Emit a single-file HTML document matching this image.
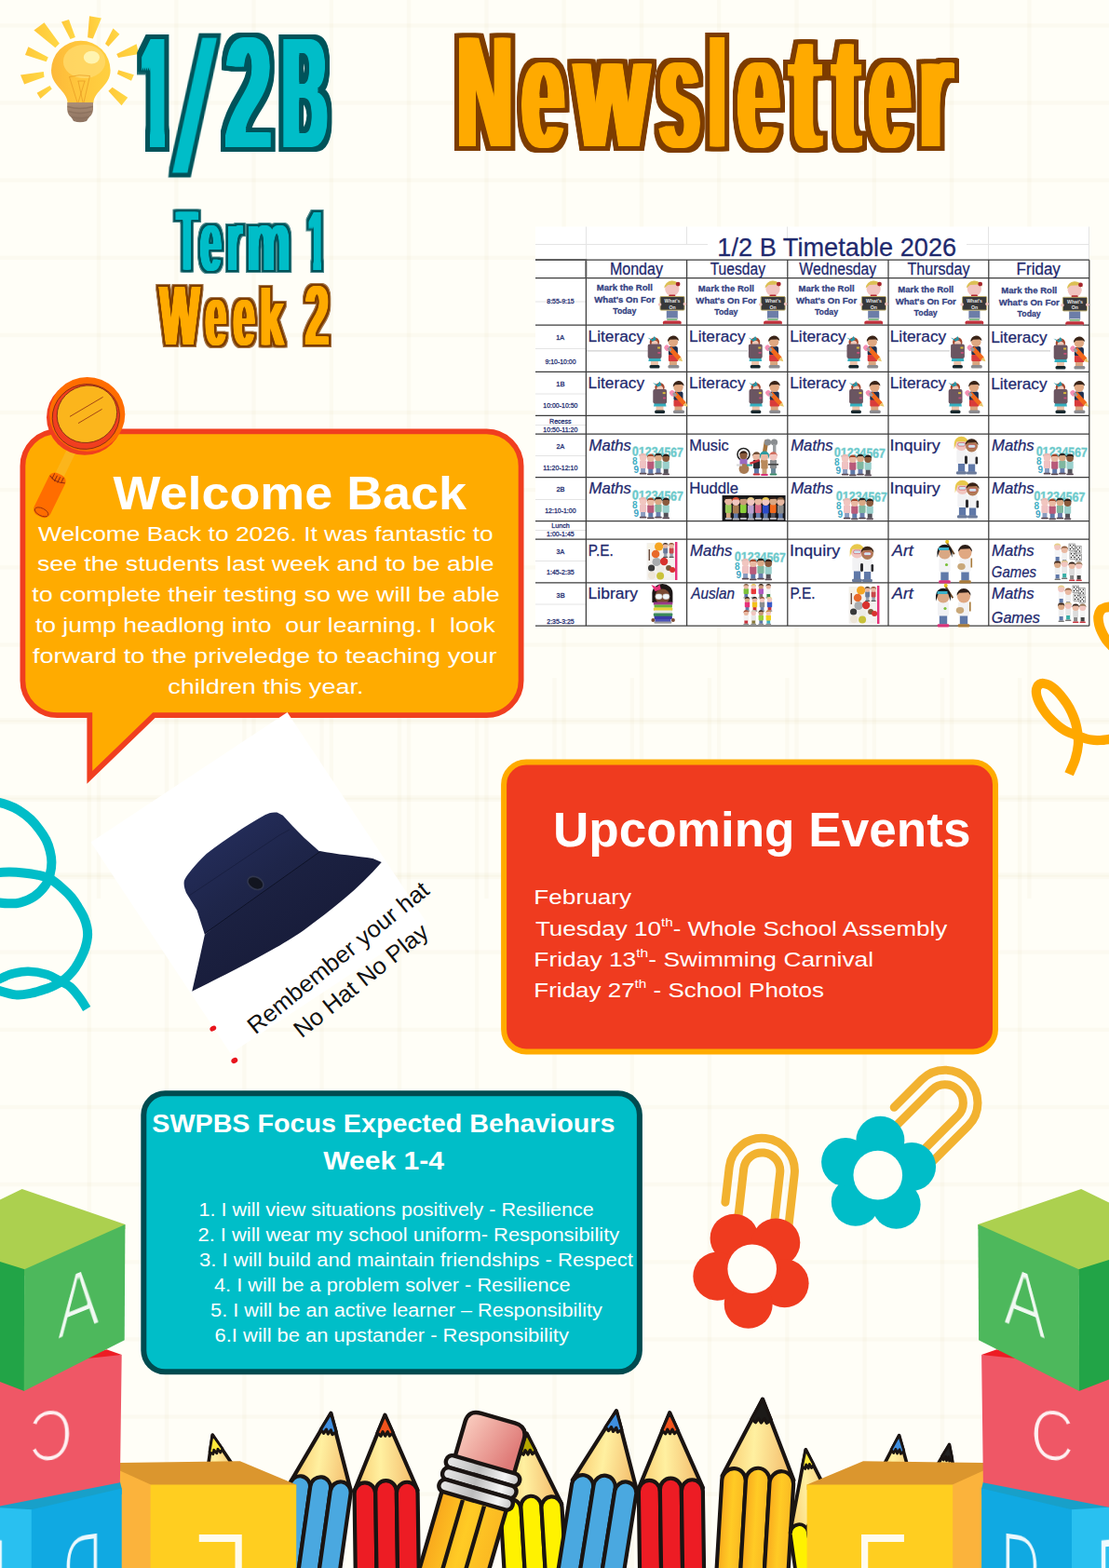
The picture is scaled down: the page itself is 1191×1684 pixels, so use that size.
<!DOCTYPE html>
<html lang="en"><head><meta charset="utf-8"><title>1/2B Newsletter - Term 1 Week 2</title>
<style>
html,body{margin:0;padding:0;background:#fffef7;}
body{width:1191px;height:1684px;overflow:hidden;position:relative;font-family:"Liberation Sans",sans-serif;}
svg{display:block;position:absolute;left:0;top:0;}
text{white-space:pre;}
</style></head><body>
<svg width="1191" height="1684" viewBox="0 0 1191 1684" font-family="'Liberation Sans', sans-serif"><defs><filter id="fT" x="-40%" y="-20%" width="180%" height="140%" color-interpolation-filters="sRGB"><feOffset in="SourceAlpha" dx="-4" dy="0" result="x0"/><feOffset in="SourceAlpha" dx="-2" dy="0" result="x1"/><feOffset in="SourceAlpha" dx="0" dy="0" result="x2"/><feOffset in="SourceAlpha" dx="2" dy="0" result="x3"/><feOffset in="SourceAlpha" dx="4" dy="0" result="x4"/><feMerge result="a"><feMergeNode in="x0"/><feMergeNode in="x1"/><feMergeNode in="x2"/><feMergeNode in="x3"/><feMergeNode in="x4"/></feMerge><feOffset in="a" dx="0" dy="-2" result="y0"/><feOffset in="a" dx="0" dy="2" result="y1"/><feComposite in="y0" in2="y1" operator="in" result="y2"/><feComposite in="a" in2="y2" operator="in" result="b"/><feMorphology in="b" operator="dilate" radius="5 5" result="c"/><feFlood flood-color="#00535a"/><feComposite in2="c" operator="in" result="d"/><feFlood flood-color="#00bdc8"/><feComposite in2="b" operator="in" result="e"/><feMerge><feMergeNode in="d"/><feMergeNode in="e"/></feMerge></filter><filter id="fT0" x="-40%" y="-20%" width="180%" height="140%" color-interpolation-filters="sRGB"><feOffset in="SourceAlpha" dx="0" dy="0" result="a"/><feOffset in="a" dx="0" dy="0" result="b"/><feMorphology in="b" operator="dilate" radius="5 5" result="c"/><feFlood flood-color="#00535a"/><feComposite in2="c" operator="in" result="d"/><feFlood flood-color="#00bdc8"/><feComposite in2="b" operator="in" result="e"/><feMerge><feMergeNode in="d"/><feMergeNode in="e"/></feMerge></filter><filter id="fO" x="-40%" y="-20%" width="180%" height="140%" color-interpolation-filters="sRGB"><feOffset in="SourceAlpha" dx="-4" dy="0" result="x0"/><feOffset in="SourceAlpha" dx="-2" dy="0" result="x1"/><feOffset in="SourceAlpha" dx="0" dy="0" result="x2"/><feOffset in="SourceAlpha" dx="2" dy="0" result="x3"/><feOffset in="SourceAlpha" dx="4" dy="0" result="x4"/><feMerge result="a"><feMergeNode in="x0"/><feMergeNode in="x1"/><feMergeNode in="x2"/><feMergeNode in="x3"/><feMergeNode in="x4"/></feMerge><feOffset in="a" dx="0" dy="-2" result="y0"/><feOffset in="a" dx="0" dy="2" result="y1"/><feComposite in="y0" in2="y1" operator="in" result="y2"/><feComposite in="a" in2="y2" operator="in" result="b"/><feMorphology in="b" operator="dilate" radius="5 5" result="c"/><feFlood flood-color="#7d3c00"/><feComposite in2="c" operator="in" result="d"/><feFlood flood-color="#ffaa00"/><feComposite in2="b" operator="in" result="e"/><feMerge><feMergeNode in="d"/><feMergeNode in="e"/></feMerge></filter><filter id="fT2" x="-40%" y="-20%" width="180%" height="140%" color-interpolation-filters="sRGB"><feOffset in="SourceAlpha" dx="-2" dy="0" result="x0"/><feOffset in="SourceAlpha" dx="-1" dy="0" result="x1"/><feOffset in="SourceAlpha" dx="0" dy="0" result="x2"/><feOffset in="SourceAlpha" dx="1" dy="0" result="x3"/><feOffset in="SourceAlpha" dx="2" dy="0" result="x4"/><feMerge result="a"><feMergeNode in="x0"/><feMergeNode in="x1"/><feMergeNode in="x2"/><feMergeNode in="x3"/><feMergeNode in="x4"/></feMerge><feOffset in="a" dx="0" dy="-1" result="y0"/><feOffset in="a" dx="0" dy="1" result="y1"/><feComposite in="y0" in2="y1" operator="in" result="y2"/><feComposite in="a" in2="y2" operator="in" result="b"/><feMorphology in="b" operator="dilate" radius="2 2" result="c"/><feMorphology in="b" operator="dilate" radius="3 3" result="c2"/><feFlood flood-color="#00535a" flood-opacity="0.7"/><feComposite in2="c2" operator="in" result="d2"/><feFlood flood-color="#00535a"/><feComposite in2="c" operator="in" result="d"/><feFlood flood-color="#00bdc8"/><feComposite in2="b" operator="in" result="e"/><feMerge><feMergeNode in="d2"/><feMergeNode in="d"/><feMergeNode in="e"/></feMerge></filter><filter id="fO2" x="-40%" y="-20%" width="180%" height="140%" color-interpolation-filters="sRGB"><feOffset in="SourceAlpha" dx="-2" dy="0" result="x0"/><feOffset in="SourceAlpha" dx="-1" dy="0" result="x1"/><feOffset in="SourceAlpha" dx="0" dy="0" result="x2"/><feOffset in="SourceAlpha" dx="1" dy="0" result="x3"/><feOffset in="SourceAlpha" dx="2" dy="0" result="x4"/><feMerge result="a"><feMergeNode in="x0"/><feMergeNode in="x1"/><feMergeNode in="x2"/><feMergeNode in="x3"/><feMergeNode in="x4"/></feMerge><feOffset in="a" dx="0" dy="-1" result="y0"/><feOffset in="a" dx="0" dy="1" result="y1"/><feComposite in="y0" in2="y1" operator="in" result="y2"/><feComposite in="a" in2="y2" operator="in" result="b"/><feMorphology in="b" operator="dilate" radius="2 2" result="c"/><feMorphology in="b" operator="dilate" radius="3 3" result="c2"/><feFlood flood-color="#7d3c00" flood-opacity="0.7"/><feComposite in2="c2" operator="in" result="d2"/><feFlood flood-color="#7d3c00"/><feComposite in2="c" operator="in" result="d"/><feFlood flood-color="#ffaa00"/><feComposite in2="b" operator="in" result="e"/><feMerge><feMergeNode in="d2"/><feMergeNode in="d"/><feMergeNode in="e"/></feMerge></filter></defs>
<g fill="rgba(190,160,110,0.048)"><rect x="103.8" y="0" width="4.4" height="965"/><rect x="187.1" y="0" width="4.4" height="965"/><rect x="270.4" y="0" width="4.4" height="965"/><rect x="353.6" y="0" width="4.4" height="965"/><rect x="436.9" y="0" width="4.4" height="965"/><rect x="520.2" y="0" width="4.4" height="965"/><rect x="603.5" y="0" width="4.4" height="965"/><rect x="686.8" y="0" width="4.4" height="965"/><rect x="770.0" y="0" width="4.4" height="965"/><rect x="853.3" y="0" width="4.4" height="965"/><rect x="936.6" y="0" width="4.4" height="965"/><rect x="1019.9" y="0" width="4.4" height="965"/><rect x="1103.2" y="0" width="4.4" height="965"/><rect x="0" y="25.1" width="1191" height="4.4"/><rect x="0" y="108.2" width="1191" height="4.4"/><rect x="0" y="191.4" width="1191" height="4.4"/><rect x="0" y="274.6" width="1191" height="4.4"/><rect x="0" y="357.7" width="1191" height="4.4"/><rect x="0" y="440.8" width="1191" height="4.4"/><rect x="0" y="524.0" width="1191" height="4.4"/><rect x="0" y="607.1" width="1191" height="4.4"/><rect x="0" y="690.3" width="1191" height="4.4"/><rect x="0" y="773.4" width="1191" height="4.4"/><rect x="0" y="856.6" width="1191" height="4.4"/><rect x="0" y="939.7" width="1191" height="4.4"/><rect x="93.6" y="728" width="4.4" height="956"/><rect x="176.9" y="728" width="4.4" height="956"/><rect x="260.2" y="728" width="4.4" height="956"/><rect x="343.4" y="728" width="4.4" height="956"/><rect x="426.7" y="728" width="4.4" height="956"/><rect x="510.0" y="728" width="4.4" height="956"/><rect x="593.3" y="728" width="4.4" height="956"/><rect x="676.6" y="728" width="4.4" height="956"/><rect x="759.8" y="728" width="4.4" height="956"/><rect x="843.1" y="728" width="4.4" height="956"/><rect x="926.4" y="728" width="4.4" height="956"/><rect x="1009.7" y="728" width="4.4" height="956"/><rect x="1093.0" y="728" width="4.4" height="956"/><rect x="0" y="771.0" width="1191" height="4.4"/><rect x="0" y="854.1" width="1191" height="4.4"/><rect x="0" y="937.3" width="1191" height="4.4"/><rect x="0" y="1020.4" width="1191" height="4.4"/><rect x="0" y="1103.6" width="1191" height="4.4"/><rect x="0" y="1186.8" width="1191" height="4.4"/><rect x="0" y="1269.9" width="1191" height="4.4"/><rect x="0" y="1353.1" width="1191" height="4.4"/><rect x="0" y="1436.2" width="1191" height="4.4"/><rect x="0" y="1519.4" width="1191" height="4.4"/><rect x="0" y="1602.5" width="1191" height="4.4"/></g>
<defs><linearGradient id="bulbg" x1="0" x2="1" y1="0" y2="0"><stop offset="0" stop-color="#fdb93a"/><stop offset="0.45" stop-color="#ffc63c"/><stop offset="1" stop-color="#ffd040"/></linearGradient><linearGradient id="rayg" x1="0" x2="1" y1="0" y2="0"><stop offset="0" stop-color="#ffc83a"/><stop offset="1" stop-color="#ffd845"/></linearGradient><linearGradient id="baseg" x1="0" x2="0" y1="0" y2="1"><stop offset="0" stop-color="#ab8e76"/><stop offset="1" stop-color="#8d7260"/></linearGradient></defs><polygon points="36.4,32.4 47.5,24.2 63.9,46.8 59.4,51.2" fill="url(#rayg)" /><polygon points="66.0,23.6 74.0,21.0 80.9,40.0 75.5,41.9" fill="url(#rayg)" /><polygon points="96.0,17.2 108.9,19.4 99.8,41.5 94.1,40.2" fill="url(#rayg)" /><polygon points="121.5,30.5 128.4,36.8 116.4,50.0 113.0,46.9" fill="url(#rayg)" /><polygon points="146.6,47.2 149.2,57.9 127.1,61.9 125.2,57.9" fill="url(#rayg)" /><polygon points="127.1,75.2 143.8,80.3 141.0,86.8 125.9,79.6" fill="url(#rayg)" /><polygon points="120.6,93.8 137.2,104.7 130.5,113.3 116.4,97.8" fill="url(#rayg)" /><polygon points="53.5,91.9 55.7,95.6 43.4,106.0 39.6,99.7" fill="url(#rayg)" /><polygon points="22.0,80.5 46.8,77.1 47.5,82.7 26.1,90.4" fill="url(#rayg)" /><polygon points="30.4,50.3 51.8,61.6 49.7,66.3 27.0,58.9" fill="url(#rayg)" /><path d="M55.0,75.6 A31.8,31.8 0 1 1 118.6,75.6 C118.6,92.6 100.8,97.6 100.39999999999999,110.6 H72.6 C72.3,97.6 55.0,92.6 55.0,75.6 Z" fill="url(#bulbg)"/><ellipse cx="90.5" cy="66" rx="22.6" ry="18" fill="#ffd868" opacity="0.85"/><ellipse cx="98.4" cy="61.6" rx="8.6" ry="6.8" fill="#fff4b0"/><path d="M74.5,82.5 L83,110 M96.5,81.5 L90,110 M74.5,82.5 Q85,79.5 96.5,81.5 M84,87 L89,110 M91,87 L84,110 M83.5,87 H91.5" stroke="#e69a22" stroke-width="0.7" fill="none"/><path d="M72.2,110 H100 V118 Q99,124 95.5,126 L93,130 Q86,132.6 79,130 L76.6,126 Q73,124 72.2,118 Z" fill="url(#baseg)"/><path d="M72.4,114.5 Q86,118.5 99.8,114.5 M73,119.6 Q86,123.6 99,119.6 M76.6,125.4 Q86,128.4 95.6,125.4" stroke="#8a6f5c" stroke-width="1.6" fill="none" opacity="0.8"/>
<g font-weight="bold"><clipPath id="c1a"><path d="M147.27,28.3 H173.10 V161.6 H164.90 V128.1 H147.27 Z"/></clipPath><g filter="url(#fT)"><text clip-path="url(#c1a)" x="152.27" y="159.6" font-size="175" textLength="30.81" lengthAdjust="spacingAndGlyphs">1</text></g><text transform="translate(184.2,181.1) skewX(-5) scale(0.70,1)" font-size="194.7" filter="url(#fT0)">/</text><text y="159.6" font-size="175" filter="url(#fT)"><tspan x="243.05" textLength="47.36" lengthAdjust="spacingAndGlyphs" >2</tspan><tspan x="303.65" textLength="47.01" lengthAdjust="spacingAndGlyphs" >B</tspan></text></g><g filter="url(#fO)"><text y="158.8" font-size="175" font-weight="bold"><tspan x="491.14" textLength="58.96" lengthAdjust="spacingAndGlyphs" >N</tspan><tspan x="560.85" textLength="44.92" lengthAdjust="spacingAndGlyphs" >e</tspan><tspan x="617.80" textLength="79.00" lengthAdjust="spacingAndGlyphs" >w</tspan><tspan x="707.97" textLength="43.22" lengthAdjust="spacingAndGlyphs" >s</tspan><tspan x="761.67" textLength="17.21" lengthAdjust="spacingAndGlyphs" font-size="166.5">l</tspan><tspan x="792.39" textLength="44.34" lengthAdjust="spacingAndGlyphs" >e</tspan><tspan x="848.81" textLength="32.37" lengthAdjust="spacingAndGlyphs" >t</tspan><tspan x="894.97" textLength="28.06" lengthAdjust="spacingAndGlyphs" >t</tspan><tspan x="933.49" textLength="44.22" lengthAdjust="spacingAndGlyphs" >e</tspan><tspan x="987.01" textLength="35.37" lengthAdjust="spacingAndGlyphs" >r</tspan></text></g><g font-weight="bold"><text y="290.5" font-size="93" filter="url(#fT2)" xml:space="preserve"><tspan x="189.79" textLength="22.09" lengthAdjust="spacingAndGlyphs" >T</tspan><tspan x="215.11" textLength="22.57" lengthAdjust="spacingAndGlyphs" >e</tspan><tspan x="244.08" textLength="16.04" lengthAdjust="spacingAndGlyphs" >r</tspan><tspan x="265.02" textLength="46.96" lengthAdjust="spacingAndGlyphs" >m</tspan> </text><clipPath id="c1b"><path d="M325.92,220.8 H343.10 V292.5 H338.10 V273.8 H325.92 Z"/></clipPath><g filter="url(#fT2)"><text clip-path="url(#c1b)" x="330.92" y="290.5" font-size="93" textLength="17.83" lengthAdjust="spacingAndGlyphs">1</text></g></g><g filter="url(#fO2)"><text y="371" font-size="92" font-weight="bold"><tspan x="171.86" textLength="42.29" lengthAdjust="spacingAndGlyphs" >W</tspan><tspan x="220.51" textLength="22.57" lengthAdjust="spacingAndGlyphs" >e</tspan><tspan x="250.38" textLength="23.03" lengthAdjust="spacingAndGlyphs" >e</tspan><tspan x="279.08" textLength="25.68" lengthAdjust="spacingAndGlyphs" font-size="87.5">k</tspan> <tspan x="327.72" textLength="25.30" lengthAdjust="spacingAndGlyphs" >2</tspan></text></g>
<g id="tt"><rect x="575" y="243.5" width="595" height="429.0" fill="#fff"/><g stroke="#e4e4e4" stroke-width="1" fill="none"><path d="M575,262.5 H760 M1038,262.5 H1170 M629.5,243.5 V279 M737.5,243.5 V262 M845.5,243.5 V256 M1061.5,243.5 V279 M1169.5,243.5 V279"/><path d="M575,324 H629 M575,374.5 H629 M575,423 H629 M575,456.5 H629 M575,489.5 H629 M575,536.5 H629 M575,569.5 H629 M575,602.5 H629 M575,649 H629"/></g><g stroke="#cfcfcf" stroke-width="1.2" fill="none"><path d="M629.4,376.8 H696 M737.6,376.8 H803 M845.8,376.8 H912 M954,376.8 H1020 M1061.8,376.8 H1128"/></g><path d="M575,279.2 H1169.8 M575,298.5 H1169.8 M575,349.2 H1169.8 M575,399.4 H1169.8 M575,446.4 H1169.8 M575,466.2 H1169.8 M575,512.6 H1169.8 M575,559.6 H1169.8 M575,579 H1169.8 M575,625.8 H1169.8 M575,672.2 H1169.8 M629.4,279.2 V672.2 M737.6,279.2 V672.2 M845.8,279.2 V672.2 M954,279.2 V672.2 M1061.8,279.2 V672.2 M1169.8,279.2 V672.2" stroke="#3c3c3c" stroke-width="1.25" fill="none"/><path d="M575,279.2 H629.4 V298.5" stroke="#555" stroke-width="1.8" fill="none"/><g><rect x="715.8" y="333.5" width="12" height="9" fill="#6c7da8"/><rect x="716.3" y="341.5" width="11" height="4" fill="#e8efe6"/><rect x="716.3" y="342.5" width="11" height="1.2" fill="#4c9a52"/><rect x="711.8" y="344.5" width="20" height="4.6" rx="2.3" fill="#c22f3a"/><rect x="712.8" y="347.7" width="18" height="1.6" fill="#8d8d8d"/><circle cx="721.8" cy="310.5" r="7.6" fill="#f2c4c0"/><path d="M713.4,309.5 a8.6,8.4 0 0 1 17,-1.5 l-3,-2.6 l-10,0.6 Z" fill="#dcc055"/><circle cx="728.0999999999999" cy="305.1" r="2.4" fill="#a5262d"/><rect x="718.3" y="316.5" width="7" height="2.6" rx="1" fill="#b3272e"/><rect x="709.0" y="318.5" width="26" height="14.6" rx="1" fill="#38383a" stroke="#b9a867" stroke-width="1"/><circle cx="708.5999999999999" cy="327.0" r="1.8" fill="#f2c4c0"/><circle cx="735.4" cy="326.5" r="1.8" fill="#f2c4c0"/><text x="722.0" y="324.8" font-size="5.2" font-weight="bold" fill="#e6e6e6" text-anchor="middle">What's</text><text x="722.0" y="331.5" font-size="5.2" font-weight="bold" fill="#e6e6e6" text-anchor="middle">On</text><rect x="824.0" y="333.5" width="12" height="9" fill="#6c7da8"/><rect x="824.5" y="341.5" width="11" height="4" fill="#e8efe6"/><rect x="824.5" y="342.5" width="11" height="1.2" fill="#4c9a52"/><rect x="820.0" y="344.5" width="20" height="4.6" rx="2.3" fill="#c22f3a"/><rect x="821.0" y="347.7" width="18" height="1.6" fill="#8d8d8d"/><circle cx="830.0" cy="310.5" r="7.6" fill="#f2c4c0"/><path d="M821.6,309.5 a8.6,8.4 0 0 1 17,-1.5 l-3,-2.6 l-10,0.6 Z" fill="#dcc055"/><circle cx="836.3" cy="305.1" r="2.4" fill="#a5262d"/><rect x="826.5" y="316.5" width="7" height="2.6" rx="1" fill="#b3272e"/><rect x="817.2" y="318.5" width="26" height="14.6" rx="1" fill="#38383a" stroke="#b9a867" stroke-width="1"/><circle cx="816.8" cy="327.0" r="1.8" fill="#f2c4c0"/><circle cx="843.6" cy="326.5" r="1.8" fill="#f2c4c0"/><text x="830.2" y="324.8" font-size="5.2" font-weight="bold" fill="#e6e6e6" text-anchor="middle">What's</text><text x="830.2" y="331.5" font-size="5.2" font-weight="bold" fill="#e6e6e6" text-anchor="middle">On</text><rect x="932.1999999999999" y="333.5" width="12" height="9" fill="#6c7da8"/><rect x="932.6999999999999" y="341.5" width="11" height="4" fill="#e8efe6"/><rect x="932.6999999999999" y="342.5" width="11" height="1.2" fill="#4c9a52"/><rect x="928.1999999999999" y="344.5" width="20" height="4.6" rx="2.3" fill="#c22f3a"/><rect x="929.1999999999999" y="347.7" width="18" height="1.6" fill="#8d8d8d"/><circle cx="938.1999999999999" cy="310.5" r="7.6" fill="#f2c4c0"/><path d="M929.8,309.5 a8.6,8.4 0 0 1 17,-1.5 l-3,-2.6 l-10,0.6 Z" fill="#dcc055"/><circle cx="944.4999999999999" cy="305.1" r="2.4" fill="#a5262d"/><rect x="934.6999999999999" y="316.5" width="7" height="2.6" rx="1" fill="#b3272e"/><rect x="925.4" y="318.5" width="26" height="14.6" rx="1" fill="#38383a" stroke="#b9a867" stroke-width="1"/><circle cx="924.9999999999999" cy="327.0" r="1.8" fill="#f2c4c0"/><circle cx="951.8" cy="326.5" r="1.8" fill="#f2c4c0"/><text x="938.4" y="324.8" font-size="5.2" font-weight="bold" fill="#e6e6e6" text-anchor="middle">What's</text><text x="938.4" y="331.5" font-size="5.2" font-weight="bold" fill="#e6e6e6" text-anchor="middle">On</text><rect x="1040.4" y="333.5" width="12" height="9" fill="#6c7da8"/><rect x="1040.9" y="341.5" width="11" height="4" fill="#e8efe6"/><rect x="1040.9" y="342.5" width="11" height="1.2" fill="#4c9a52"/><rect x="1036.4" y="344.5" width="20" height="4.6" rx="2.3" fill="#c22f3a"/><rect x="1037.4" y="347.7" width="18" height="1.6" fill="#8d8d8d"/><circle cx="1046.4" cy="310.5" r="7.6" fill="#f2c4c0"/><path d="M1038.0,309.5 a8.6,8.4 0 0 1 17,-1.5 l-3,-2.6 l-10,0.6 Z" fill="#dcc055"/><circle cx="1052.7" cy="305.1" r="2.4" fill="#a5262d"/><rect x="1042.9" y="316.5" width="7" height="2.6" rx="1" fill="#b3272e"/><rect x="1033.6000000000001" y="318.5" width="26" height="14.6" rx="1" fill="#38383a" stroke="#b9a867" stroke-width="1"/><circle cx="1033.2" cy="327.0" r="1.8" fill="#f2c4c0"/><circle cx="1060.0" cy="326.5" r="1.8" fill="#f2c4c0"/><text x="1046.6000000000001" y="324.8" font-size="5.2" font-weight="bold" fill="#e6e6e6" text-anchor="middle">What's</text><text x="1046.6000000000001" y="331.5" font-size="5.2" font-weight="bold" fill="#e6e6e6" text-anchor="middle">On</text><rect x="1148.2" y="334.3" width="12" height="9" fill="#6c7da8"/><rect x="1148.7" y="342.3" width="11" height="4" fill="#e8efe6"/><rect x="1148.7" y="343.3" width="11" height="1.2" fill="#4c9a52"/><rect x="1144.2" y="345.3" width="20" height="4.6" rx="2.3" fill="#c22f3a"/><rect x="1145.2" y="348.5" width="18" height="1.6" fill="#8d8d8d"/><circle cx="1154.2" cy="311.3" r="7.6" fill="#f2c4c0"/><path d="M1145.8,310.3 a8.6,8.4 0 0 1 17,-1.5 l-3,-2.6 l-10,0.6 Z" fill="#dcc055"/><circle cx="1160.5" cy="305.90000000000003" r="2.4" fill="#a5262d"/><rect x="1150.7" y="317.3" width="7" height="2.6" rx="1" fill="#b3272e"/><rect x="1141.4" y="319.3" width="26" height="14.6" rx="1" fill="#38383a" stroke="#b9a867" stroke-width="1"/><circle cx="1141.0" cy="327.8" r="1.8" fill="#f2c4c0"/><circle cx="1167.8" cy="327.3" r="1.8" fill="#f2c4c0"/><text x="1154.4" y="325.6" font-size="5.2" font-weight="bold" fill="#e6e6e6" text-anchor="middle">What's</text><text x="1154.4" y="332.3" font-size="5.2" font-weight="bold" fill="#e6e6e6" text-anchor="middle">On</text><rect x="698.9" y="387" width="8" height="6" fill="#e9c1a8"/><rect x="697.5" y="392" width="11" height="3.4" rx="1.5" fill="#17282e"/><path d="M697.4,382 h11.5 l1,6 h-13.5 Z" fill="#35afbf"/><circle cx="702.9" cy="367.5" r="5.2" fill="#a4472e"/><circle cx="703.1" cy="369.2" r="3.5" fill="#f0c8b8"/><path d="M695.4,362.5 l5,2 l2.5,-3.5 l2,3.8 l-4,2 Z" fill="#2796a6"/><rect x="695.6999999999999" y="369.5" width="14.8" height="15.5" rx="2" fill="#6a5561"/><rect x="706.1" y="372.5" width="3" height="2" fill="#d8b83a"/><rect x="706.4" y="378" width="3" height="1.8" fill="#c7507a"/><rect x="718.9" y="387" width="8" height="6" fill="#d9a47e"/><rect x="717.4" y="392" width="12" height="3.4" rx="1.5" fill="#8b8b8f"/><rect x="717.9" y="372" width="10" height="10" rx="2" fill="#1f2f4f"/><rect x="717.9" y="381" width="10.5" height="7" rx="1" fill="#d83b3b"/><circle cx="722.9" cy="367.2" r="5.2" fill="#e0a882"/><path d="M717.1,367 a6,6 0 0 1 12,-1 l-2.5,-1.5 l-7,0.2 Z" fill="#3a2418"/><path d="M717.4,375.5 l3.4,-3.4 l10.5,11.5 l-3.4,3.4 Z" fill="#f2691c"/><path d="M727.9,387 l3.4,-3.4 l1.8,4.6 Z" fill="#e8c66a"/><rect x="713.6999999999999" y="370.5" width="5.5" height="6.5" rx="2.4" fill="#f48fb4" transform="rotate(-42 716.4 373.7)"/><rect x="716.9" y="373.6" width="4.4" height="3" fill="#9a9a9a" transform="rotate(48 719.1 375)"/><rect x="704.5" y="435.6" width="8" height="6" fill="#e9c1a8"/><rect x="703.1" y="440.6" width="11" height="3.4" rx="1.5" fill="#17282e"/><path d="M703.0,430.6 h11.5 l1,6 h-13.5 Z" fill="#35afbf"/><circle cx="708.5" cy="416.1" r="5.2" fill="#a4472e"/><circle cx="708.7" cy="417.8" r="3.5" fill="#f0c8b8"/><path d="M701.0,411.1 l5,2 l2.5,-3.5 l2,3.8 l-4,2 Z" fill="#2796a6"/><rect x="701.3" y="418.1" width="14.8" height="15.5" rx="2" fill="#6a5561"/><rect x="711.7" y="421.1" width="3" height="2" fill="#d8b83a"/><rect x="712.0" y="426.6" width="3" height="1.8" fill="#c7507a"/><rect x="724.5" y="435.6" width="8" height="6" fill="#d9a47e"/><rect x="723.0" y="440.6" width="12" height="3.4" rx="1.5" fill="#8b8b8f"/><rect x="723.5" y="420.6" width="10" height="10" rx="2" fill="#1f2f4f"/><rect x="723.5" y="429.6" width="10.5" height="7" rx="1" fill="#d83b3b"/><circle cx="728.5" cy="415.8" r="5.2" fill="#e0a882"/><path d="M722.7,415.6 a6,6 0 0 1 12,-1 l-2.5,-1.5 l-7,0.2 Z" fill="#3a2418"/><path d="M723.0,424.1 l3.4,-3.4 l10.5,11.5 l-3.4,3.4 Z" fill="#f2691c"/><path d="M733.5,435.6 l3.4,-3.4 l1.8,4.6 Z" fill="#e8c66a"/><rect x="719.3" y="419.1" width="5.5" height="6.5" rx="2.4" fill="#f48fb4" transform="rotate(-42 722.0 422.3)"/><rect x="722.5" y="422.20000000000005" width="4.4" height="3" fill="#9a9a9a" transform="rotate(48 724.7 423.6)"/><rect x="807.1" y="387" width="8" height="6" fill="#e9c1a8"/><rect x="805.7" y="392" width="11" height="3.4" rx="1.5" fill="#17282e"/><path d="M805.6,382 h11.5 l1,6 h-13.5 Z" fill="#35afbf"/><circle cx="811.1" cy="367.5" r="5.2" fill="#a4472e"/><circle cx="811.3000000000001" cy="369.2" r="3.5" fill="#f0c8b8"/><path d="M803.6,362.5 l5,2 l2.5,-3.5 l2,3.8 l-4,2 Z" fill="#2796a6"/><rect x="803.9" y="369.5" width="14.8" height="15.5" rx="2" fill="#6a5561"/><rect x="814.3000000000001" y="372.5" width="3" height="2" fill="#d8b83a"/><rect x="814.6" y="378" width="3" height="1.8" fill="#c7507a"/><rect x="827.1" y="387" width="8" height="6" fill="#d9a47e"/><rect x="825.6" y="392" width="12" height="3.4" rx="1.5" fill="#8b8b8f"/><rect x="826.1" y="372" width="10" height="10" rx="2" fill="#1f2f4f"/><rect x="826.1" y="381" width="10.5" height="7" rx="1" fill="#d83b3b"/><circle cx="831.1" cy="367.2" r="5.2" fill="#e0a882"/><path d="M825.3000000000001,367 a6,6 0 0 1 12,-1 l-2.5,-1.5 l-7,0.2 Z" fill="#3a2418"/><path d="M825.6,375.5 l3.4,-3.4 l10.5,11.5 l-3.4,3.4 Z" fill="#f2691c"/><path d="M836.1,387 l3.4,-3.4 l1.8,4.6 Z" fill="#e8c66a"/><rect x="821.9" y="370.5" width="5.5" height="6.5" rx="2.4" fill="#f48fb4" transform="rotate(-42 824.6 373.7)"/><rect x="825.1" y="373.6" width="4.4" height="3" fill="#9a9a9a" transform="rotate(48 827.3000000000001 375)"/><rect x="807.7" y="435.6" width="8" height="6" fill="#e9c1a8"/><rect x="806.3000000000001" y="440.6" width="11" height="3.4" rx="1.5" fill="#17282e"/><path d="M806.2,430.6 h11.5 l1,6 h-13.5 Z" fill="#35afbf"/><circle cx="811.7" cy="416.1" r="5.2" fill="#a4472e"/><circle cx="811.9000000000001" cy="417.8" r="3.5" fill="#f0c8b8"/><path d="M804.2,411.1 l5,2 l2.5,-3.5 l2,3.8 l-4,2 Z" fill="#2796a6"/><rect x="804.5" y="418.1" width="14.8" height="15.5" rx="2" fill="#6a5561"/><rect x="814.9000000000001" y="421.1" width="3" height="2" fill="#d8b83a"/><rect x="815.2" y="426.6" width="3" height="1.8" fill="#c7507a"/><rect x="827.7" y="435.6" width="8" height="6" fill="#d9a47e"/><rect x="826.2" y="440.6" width="12" height="3.4" rx="1.5" fill="#8b8b8f"/><rect x="826.7" y="420.6" width="10" height="10" rx="2" fill="#1f2f4f"/><rect x="826.7" y="429.6" width="10.5" height="7" rx="1" fill="#d83b3b"/><circle cx="831.7" cy="415.8" r="5.2" fill="#e0a882"/><path d="M825.9000000000001,415.6 a6,6 0 0 1 12,-1 l-2.5,-1.5 l-7,0.2 Z" fill="#3a2418"/><path d="M826.2,424.1 l3.4,-3.4 l10.5,11.5 l-3.4,3.4 Z" fill="#f2691c"/><path d="M836.7,435.6 l3.4,-3.4 l1.8,4.6 Z" fill="#e8c66a"/><rect x="822.5" y="419.1" width="5.5" height="6.5" rx="2.4" fill="#f48fb4" transform="rotate(-42 825.2 422.3)"/><rect x="825.7" y="422.20000000000005" width="4.4" height="3" fill="#9a9a9a" transform="rotate(48 827.9000000000001 423.6)"/><rect x="912.6999999999999" y="387" width="8" height="6" fill="#e9c1a8"/><rect x="911.3" y="392" width="11" height="3.4" rx="1.5" fill="#17282e"/><path d="M911.1999999999999,382 h11.5 l1,6 h-13.5 Z" fill="#35afbf"/><circle cx="916.6999999999999" cy="367.5" r="5.2" fill="#a4472e"/><circle cx="916.9" cy="369.2" r="3.5" fill="#f0c8b8"/><path d="M909.1999999999999,362.5 l5,2 l2.5,-3.5 l2,3.8 l-4,2 Z" fill="#2796a6"/><rect x="909.4999999999999" y="369.5" width="14.8" height="15.5" rx="2" fill="#6a5561"/><rect x="919.9" y="372.5" width="3" height="2" fill="#d8b83a"/><rect x="920.1999999999999" y="378" width="3" height="1.8" fill="#c7507a"/><rect x="932.6999999999999" y="387" width="8" height="6" fill="#d9a47e"/><rect x="931.1999999999999" y="392" width="12" height="3.4" rx="1.5" fill="#8b8b8f"/><rect x="931.6999999999999" y="372" width="10" height="10" rx="2" fill="#1f2f4f"/><rect x="931.6999999999999" y="381" width="10.5" height="7" rx="1" fill="#d83b3b"/><circle cx="936.6999999999999" cy="367.2" r="5.2" fill="#e0a882"/><path d="M930.9,367 a6,6 0 0 1 12,-1 l-2.5,-1.5 l-7,0.2 Z" fill="#3a2418"/><path d="M931.1999999999999,375.5 l3.4,-3.4 l10.5,11.5 l-3.4,3.4 Z" fill="#f2691c"/><path d="M941.6999999999999,387 l3.4,-3.4 l1.8,4.6 Z" fill="#e8c66a"/><rect x="927.4999999999999" y="370.5" width="5.5" height="6.5" rx="2.4" fill="#f48fb4" transform="rotate(-42 930.1999999999999 373.7)"/><rect x="930.6999999999999" y="373.6" width="4.4" height="3" fill="#9a9a9a" transform="rotate(48 932.9 375)"/><rect x="915.3" y="435.6" width="8" height="6" fill="#e9c1a8"/><rect x="913.9" y="440.6" width="11" height="3.4" rx="1.5" fill="#17282e"/><path d="M913.8,430.6 h11.5 l1,6 h-13.5 Z" fill="#35afbf"/><circle cx="919.3" cy="416.1" r="5.2" fill="#a4472e"/><circle cx="919.5" cy="417.8" r="3.5" fill="#f0c8b8"/><path d="M911.8,411.1 l5,2 l2.5,-3.5 l2,3.8 l-4,2 Z" fill="#2796a6"/><rect x="912.0999999999999" y="418.1" width="14.8" height="15.5" rx="2" fill="#6a5561"/><rect x="922.5" y="421.1" width="3" height="2" fill="#d8b83a"/><rect x="922.8" y="426.6" width="3" height="1.8" fill="#c7507a"/><rect x="935.3" y="435.6" width="8" height="6" fill="#d9a47e"/><rect x="933.8" y="440.6" width="12" height="3.4" rx="1.5" fill="#8b8b8f"/><rect x="934.3" y="420.6" width="10" height="10" rx="2" fill="#1f2f4f"/><rect x="934.3" y="429.6" width="10.5" height="7" rx="1" fill="#d83b3b"/><circle cx="939.3" cy="415.8" r="5.2" fill="#e0a882"/><path d="M933.5,415.6 a6,6 0 0 1 12,-1 l-2.5,-1.5 l-7,0.2 Z" fill="#3a2418"/><path d="M933.8,424.1 l3.4,-3.4 l10.5,11.5 l-3.4,3.4 Z" fill="#f2691c"/><path d="M944.3,435.6 l3.4,-3.4 l1.8,4.6 Z" fill="#e8c66a"/><rect x="930.0999999999999" y="419.1" width="5.5" height="6.5" rx="2.4" fill="#f48fb4" transform="rotate(-42 932.8 422.3)"/><rect x="933.3" y="422.20000000000005" width="4.4" height="3" fill="#9a9a9a" transform="rotate(48 935.5 423.6)"/><rect x="1024.3" y="387" width="8" height="6" fill="#e9c1a8"/><rect x="1022.9" y="392" width="11" height="3.4" rx="1.5" fill="#17282e"/><path d="M1022.8,382 h11.5 l1,6 h-13.5 Z" fill="#35afbf"/><circle cx="1028.3" cy="367.5" r="5.2" fill="#a4472e"/><circle cx="1028.5" cy="369.2" r="3.5" fill="#f0c8b8"/><path d="M1020.8,362.5 l5,2 l2.5,-3.5 l2,3.8 l-4,2 Z" fill="#2796a6"/><rect x="1021.0999999999999" y="369.5" width="14.8" height="15.5" rx="2" fill="#6a5561"/><rect x="1031.5" y="372.5" width="3" height="2" fill="#d8b83a"/><rect x="1031.8" y="378" width="3" height="1.8" fill="#c7507a"/><rect x="1044.3" y="387" width="8" height="6" fill="#d9a47e"/><rect x="1042.8" y="392" width="12" height="3.4" rx="1.5" fill="#8b8b8f"/><rect x="1043.3" y="372" width="10" height="10" rx="2" fill="#1f2f4f"/><rect x="1043.3" y="381" width="10.5" height="7" rx="1" fill="#d83b3b"/><circle cx="1048.3" cy="367.2" r="5.2" fill="#e0a882"/><path d="M1042.5,367 a6,6 0 0 1 12,-1 l-2.5,-1.5 l-7,0.2 Z" fill="#3a2418"/><path d="M1042.8,375.5 l3.4,-3.4 l10.5,11.5 l-3.4,3.4 Z" fill="#f2691c"/><path d="M1053.3,387 l3.4,-3.4 l1.8,4.6 Z" fill="#e8c66a"/><rect x="1039.1" y="370.5" width="5.5" height="6.5" rx="2.4" fill="#f48fb4" transform="rotate(-42 1041.8 373.7)"/><rect x="1042.3" y="373.6" width="4.4" height="3" fill="#9a9a9a" transform="rotate(48 1044.5 375)"/><rect x="1021.9" y="435.6" width="8" height="6" fill="#e9c1a8"/><rect x="1020.5" y="440.6" width="11" height="3.4" rx="1.5" fill="#17282e"/><path d="M1020.4,430.6 h11.5 l1,6 h-13.5 Z" fill="#35afbf"/><circle cx="1025.9" cy="416.1" r="5.2" fill="#a4472e"/><circle cx="1026.1" cy="417.8" r="3.5" fill="#f0c8b8"/><path d="M1018.4,411.1 l5,2 l2.5,-3.5 l2,3.8 l-4,2 Z" fill="#2796a6"/><rect x="1018.6999999999999" y="418.1" width="14.8" height="15.5" rx="2" fill="#6a5561"/><rect x="1029.1" y="421.1" width="3" height="2" fill="#d8b83a"/><rect x="1029.4" y="426.6" width="3" height="1.8" fill="#c7507a"/><rect x="1041.9" y="435.6" width="8" height="6" fill="#d9a47e"/><rect x="1040.4" y="440.6" width="12" height="3.4" rx="1.5" fill="#8b8b8f"/><rect x="1040.9" y="420.6" width="10" height="10" rx="2" fill="#1f2f4f"/><rect x="1040.9" y="429.6" width="10.5" height="7" rx="1" fill="#d83b3b"/><circle cx="1045.9" cy="415.8" r="5.2" fill="#e0a882"/><path d="M1040.1000000000001,415.6 a6,6 0 0 1 12,-1 l-2.5,-1.5 l-7,0.2 Z" fill="#3a2418"/><path d="M1040.4,424.1 l3.4,-3.4 l10.5,11.5 l-3.4,3.4 Z" fill="#f2691c"/><path d="M1050.9,435.6 l3.4,-3.4 l1.8,4.6 Z" fill="#e8c66a"/><rect x="1036.7" y="419.1" width="5.5" height="6.5" rx="2.4" fill="#f48fb4" transform="rotate(-42 1039.4 422.3)"/><rect x="1039.9" y="422.20000000000005" width="4.4" height="3" fill="#9a9a9a" transform="rotate(48 1042.1000000000001 423.6)"/><rect x="1134.8999999999999" y="388" width="8" height="6" fill="#e9c1a8"/><rect x="1133.4999999999998" y="393" width="11" height="3.4" rx="1.5" fill="#17282e"/><path d="M1133.3999999999999,383 h11.5 l1,6 h-13.5 Z" fill="#35afbf"/><circle cx="1138.8999999999999" cy="368.5" r="5.2" fill="#a4472e"/><circle cx="1139.1" cy="370.2" r="3.5" fill="#f0c8b8"/><path d="M1131.3999999999999,363.5 l5,2 l2.5,-3.5 l2,3.8 l-4,2 Z" fill="#2796a6"/><rect x="1131.6999999999998" y="370.5" width="14.8" height="15.5" rx="2" fill="#6a5561"/><rect x="1142.1" y="373.5" width="3" height="2" fill="#d8b83a"/><rect x="1142.3999999999999" y="379" width="3" height="1.8" fill="#c7507a"/><rect x="1154.8999999999999" y="388" width="8" height="6" fill="#d9a47e"/><rect x="1153.3999999999999" y="393" width="12" height="3.4" rx="1.5" fill="#8b8b8f"/><rect x="1153.8999999999999" y="373" width="10" height="10" rx="2" fill="#1f2f4f"/><rect x="1153.8999999999999" y="382" width="10.5" height="7" rx="1" fill="#d83b3b"/><circle cx="1158.8999999999999" cy="368.2" r="5.2" fill="#e0a882"/><path d="M1153.1,368 a6,6 0 0 1 12,-1 l-2.5,-1.5 l-7,0.2 Z" fill="#3a2418"/><path d="M1153.3999999999999,376.5 l3.4,-3.4 l10.5,11.5 l-3.4,3.4 Z" fill="#f2691c"/><path d="M1163.8999999999999,388 l3.4,-3.4 l1.8,4.6 Z" fill="#e8c66a"/><rect x="1149.6999999999998" y="371.5" width="5.5" height="6.5" rx="2.4" fill="#f48fb4" transform="rotate(-42 1152.3999999999999 374.7)"/><rect x="1152.8999999999999" y="374.6" width="4.4" height="3" fill="#9a9a9a" transform="rotate(48 1155.1 376)"/><rect x="1134.8999999999999" y="435.6" width="8" height="6" fill="#e9c1a8"/><rect x="1133.4999999999998" y="440.6" width="11" height="3.4" rx="1.5" fill="#17282e"/><path d="M1133.3999999999999,430.6 h11.5 l1,6 h-13.5 Z" fill="#35afbf"/><circle cx="1138.8999999999999" cy="416.1" r="5.2" fill="#a4472e"/><circle cx="1139.1" cy="417.8" r="3.5" fill="#f0c8b8"/><path d="M1131.3999999999999,411.1 l5,2 l2.5,-3.5 l2,3.8 l-4,2 Z" fill="#2796a6"/><rect x="1131.6999999999998" y="418.1" width="14.8" height="15.5" rx="2" fill="#6a5561"/><rect x="1142.1" y="421.1" width="3" height="2" fill="#d8b83a"/><rect x="1142.3999999999999" y="426.6" width="3" height="1.8" fill="#c7507a"/><rect x="1154.8999999999999" y="435.6" width="8" height="6" fill="#d9a47e"/><rect x="1153.3999999999999" y="440.6" width="12" height="3.4" rx="1.5" fill="#8b8b8f"/><rect x="1153.8999999999999" y="420.6" width="10" height="10" rx="2" fill="#1f2f4f"/><rect x="1153.8999999999999" y="429.6" width="10.5" height="7" rx="1" fill="#d83b3b"/><circle cx="1158.8999999999999" cy="415.8" r="5.2" fill="#e0a882"/><path d="M1153.1,415.6 a6,6 0 0 1 12,-1 l-2.5,-1.5 l-7,0.2 Z" fill="#3a2418"/><path d="M1153.3999999999999,424.1 l3.4,-3.4 l10.5,11.5 l-3.4,3.4 Z" fill="#f2691c"/><path d="M1163.8999999999999,435.6 l3.4,-3.4 l1.8,4.6 Z" fill="#e8c66a"/><rect x="1149.6999999999998" y="419.1" width="5.5" height="6.5" rx="2.4" fill="#f48fb4" transform="rotate(-42 1152.3999999999999 422.3)"/><rect x="1152.8999999999999" y="422.20000000000005" width="4.4" height="3" fill="#9a9a9a" transform="rotate(48 1155.1 423.6)"/><text x="679.1" y="489.3" font-size="14" font-weight="bold" fill="#5cc3c6" stroke="#8fd6d6" stroke-width="0.6" textLength="55" lengthAdjust="spacingAndGlyphs" transform="rotate(1.5 678.6 477)">01234567</text><text x="679.1" y="499" font-size="10" font-weight="bold" fill="#3fb0c4">8</text><text x="680.6" y="508" font-size="10" font-weight="bold" fill="#3fa6c4">9</text><rect x="688.1" y="501.9" width="5.0" height="6.1" fill="#8a9cc0"/><rect x="686.8" y="507.7" width="7.6" height="1.8" rx="0.7" fill="#5a4a55"/><rect x="687.0" y="494.4" width="7.2" height="8.6" rx="1.1" fill="#efc2c2"/><circle cx="690.6" cy="491.4" r="3.8" fill="#f1c6c0"/><path d="M686.5,491.0 A4.1,4.2 0 0 1 694.7,491.0 L693.3,489.1 L687.9,489.3 Z" fill="#e9b9b4"/><rect x="696.3" y="502.7" width="5.0" height="6.1" fill="#5f78a8"/><rect x="695.0" y="508.5" width="7.6" height="1.8" rx="0.7" fill="#5a4a55"/><rect x="695.2" y="495.2" width="7.2" height="8.6" rx="1.1" fill="#b85a7a"/><circle cx="698.8" cy="492.2" r="3.8" fill="#e9b9a2"/><path d="M694.7,491.8 A4.1,4.2 0 0 1 702.9,491.8 L701.5,489.9 L696.1,490.1 Z" fill="#a3482d"/><rect x="704.5" y="501.9" width="5.0" height="6.1" fill="#6a7fae"/><rect x="703.2" y="507.7" width="7.6" height="1.8" rx="0.7" fill="#5a4a55"/><rect x="703.4" y="494.4" width="7.2" height="8.6" rx="1.1" fill="#7fb7a0"/><circle cx="707.0" cy="491.4" r="3.8" fill="#d9a884"/><path d="M702.9,491.0 A4.1,4.2 0 0 1 711.1,491.0 L709.7,489.1 L704.3,489.3 Z" fill="#2a2422"/><rect x="712.7" y="502.7" width="5.0" height="6.1" fill="#54525a"/><rect x="711.4" y="508.5" width="7.6" height="1.8" rx="0.7" fill="#5a4a55"/><rect x="711.6" y="495.2" width="7.2" height="8.6" rx="1.1" fill="#9ad0cc"/><circle cx="715.2" cy="492.2" r="3.8" fill="#8a5a3c"/><path d="M711.1,491.8 A4.1,4.2 0 0 1 719.3,491.8 L717.9,489.9 L712.5,490.1 Z" fill="#2b1d18"/><text x="679.1" y="536.3" font-size="14" font-weight="bold" fill="#5cc3c6" stroke="#8fd6d6" stroke-width="0.6" textLength="55" lengthAdjust="spacingAndGlyphs" transform="rotate(1.5 678.6 524)">01234567</text><text x="679.1" y="546" font-size="10" font-weight="bold" fill="#3fb0c4">8</text><text x="680.6" y="555" font-size="10" font-weight="bold" fill="#3fa6c4">9</text><rect x="688.1" y="548.9" width="5.0" height="6.1" fill="#8a9cc0"/><rect x="686.8" y="554.7" width="7.6" height="1.8" rx="0.7" fill="#5a4a55"/><rect x="687.0" y="541.4" width="7.2" height="8.6" rx="1.1" fill="#efc2c2"/><circle cx="690.6" cy="538.4" r="3.8" fill="#f1c6c0"/><path d="M686.5,538.0 A4.1,4.2 0 0 1 694.7,538.0 L693.3,536.1 L687.9,536.3 Z" fill="#e9b9b4"/><rect x="696.3" y="549.6" width="5.0" height="6.1" fill="#5f78a8"/><rect x="695.0" y="555.5" width="7.6" height="1.8" rx="0.7" fill="#5a4a55"/><rect x="695.2" y="542.2" width="7.2" height="8.6" rx="1.1" fill="#b85a7a"/><circle cx="698.8" cy="539.2" r="3.8" fill="#e9b9a2"/><path d="M694.7,538.8 A4.1,4.2 0 0 1 702.9,538.8 L701.5,536.9 L696.1,537.1 Z" fill="#a3482d"/><rect x="704.5" y="548.9" width="5.0" height="6.1" fill="#6a7fae"/><rect x="703.2" y="554.7" width="7.6" height="1.8" rx="0.7" fill="#5a4a55"/><rect x="703.4" y="541.4" width="7.2" height="8.6" rx="1.1" fill="#7fb7a0"/><circle cx="707.0" cy="538.4" r="3.8" fill="#d9a884"/><path d="M702.9,538.0 A4.1,4.2 0 0 1 711.1,538.0 L709.7,536.1 L704.3,536.3 Z" fill="#2a2422"/><rect x="712.7" y="549.6" width="5.0" height="6.1" fill="#54525a"/><rect x="711.4" y="555.5" width="7.6" height="1.8" rx="0.7" fill="#5a4a55"/><rect x="711.6" y="542.2" width="7.2" height="8.6" rx="1.1" fill="#9ad0cc"/><circle cx="715.2" cy="539.2" r="3.8" fill="#8a5a3c"/><path d="M711.1,538.8 A4.1,4.2 0 0 1 719.3,538.8 L717.9,536.9 L712.5,537.1 Z" fill="#2b1d18"/><text x="896.1" y="490.3" font-size="14" font-weight="bold" fill="#5cc3c6" stroke="#8fd6d6" stroke-width="0.6" textLength="55" lengthAdjust="spacingAndGlyphs" transform="rotate(1.5 895.6 478)">01234567</text><text x="896.1" y="500" font-size="10" font-weight="bold" fill="#3fb0c4">8</text><text x="897.6" y="509" font-size="10" font-weight="bold" fill="#3fa6c4">9</text><rect x="905.1" y="502.9" width="5.0" height="6.1" fill="#8a9cc0"/><rect x="903.8" y="508.7" width="7.6" height="1.8" rx="0.7" fill="#5a4a55"/><rect x="904.0" y="495.4" width="7.2" height="8.6" rx="1.1" fill="#efc2c2"/><circle cx="907.6" cy="492.4" r="3.8" fill="#f1c6c0"/><path d="M903.5,492.0 A4.1,4.2 0 0 1 911.7,492.0 L910.3,490.1 L904.9,490.3 Z" fill="#e9b9b4"/><rect x="913.3" y="503.7" width="5.0" height="6.1" fill="#5f78a8"/><rect x="912.0" y="509.5" width="7.6" height="1.8" rx="0.7" fill="#5a4a55"/><rect x="912.2" y="496.2" width="7.2" height="8.6" rx="1.1" fill="#b85a7a"/><circle cx="915.8" cy="493.2" r="3.8" fill="#e9b9a2"/><path d="M911.7,492.8 A4.1,4.2 0 0 1 919.9,492.8 L918.5,490.9 L913.1,491.1 Z" fill="#a3482d"/><rect x="921.5" y="502.9" width="5.0" height="6.1" fill="#6a7fae"/><rect x="920.2" y="508.7" width="7.6" height="1.8" rx="0.7" fill="#5a4a55"/><rect x="920.4" y="495.4" width="7.2" height="8.6" rx="1.1" fill="#7fb7a0"/><circle cx="924.0" cy="492.4" r="3.8" fill="#d9a884"/><path d="M919.9,492.0 A4.1,4.2 0 0 1 928.1,492.0 L926.7,490.1 L921.3,490.3 Z" fill="#2a2422"/><rect x="929.7" y="503.7" width="5.0" height="6.1" fill="#54525a"/><rect x="928.4" y="509.5" width="7.6" height="1.8" rx="0.7" fill="#5a4a55"/><rect x="928.6" y="496.2" width="7.2" height="8.6" rx="1.1" fill="#9ad0cc"/><circle cx="932.2" cy="493.2" r="3.8" fill="#8a5a3c"/><path d="M928.1,492.8 A4.1,4.2 0 0 1 936.3,492.8 L934.9,490.9 L929.5,491.1 Z" fill="#2b1d18"/><text x="898.1" y="537.3" font-size="14" font-weight="bold" fill="#5cc3c6" stroke="#8fd6d6" stroke-width="0.6" textLength="55" lengthAdjust="spacingAndGlyphs" transform="rotate(1.5 897.6 525)">01234567</text><text x="898.1" y="547" font-size="10" font-weight="bold" fill="#3fb0c4">8</text><text x="899.6" y="556" font-size="10" font-weight="bold" fill="#3fa6c4">9</text><rect x="907.1" y="549.9" width="5.0" height="6.1" fill="#8a9cc0"/><rect x="905.8" y="555.7" width="7.6" height="1.8" rx="0.7" fill="#5a4a55"/><rect x="906.0" y="542.4" width="7.2" height="8.6" rx="1.1" fill="#efc2c2"/><circle cx="909.6" cy="539.4" r="3.8" fill="#f1c6c0"/><path d="M905.5,539.0 A4.1,4.2 0 0 1 913.7,539.0 L912.3,537.1 L906.9,537.3 Z" fill="#e9b9b4"/><rect x="915.3" y="550.6" width="5.0" height="6.1" fill="#5f78a8"/><rect x="914.0" y="556.5" width="7.6" height="1.8" rx="0.7" fill="#5a4a55"/><rect x="914.2" y="543.2" width="7.2" height="8.6" rx="1.1" fill="#b85a7a"/><circle cx="917.8" cy="540.2" r="3.8" fill="#e9b9a2"/><path d="M913.7,539.8 A4.1,4.2 0 0 1 921.9,539.8 L920.5,537.9 L915.1,538.1 Z" fill="#a3482d"/><rect x="923.5" y="549.9" width="5.0" height="6.1" fill="#6a7fae"/><rect x="922.2" y="555.7" width="7.6" height="1.8" rx="0.7" fill="#5a4a55"/><rect x="922.4" y="542.4" width="7.2" height="8.6" rx="1.1" fill="#7fb7a0"/><circle cx="926.0" cy="539.4" r="3.8" fill="#d9a884"/><path d="M921.9,539.0 A4.1,4.2 0 0 1 930.1,539.0 L928.7,537.1 L923.3,537.3 Z" fill="#2a2422"/><rect x="931.7" y="550.6" width="5.0" height="6.1" fill="#54525a"/><rect x="930.4" y="556.5" width="7.6" height="1.8" rx="0.7" fill="#5a4a55"/><rect x="930.6" y="543.2" width="7.2" height="8.6" rx="1.1" fill="#9ad0cc"/><circle cx="934.2" cy="540.2" r="3.8" fill="#8a5a3c"/><path d="M930.1,539.8 A4.1,4.2 0 0 1 938.3,539.8 L936.9,537.9 L931.5,538.1 Z" fill="#2b1d18"/><text x="1113.0" y="489.3" font-size="14" font-weight="bold" fill="#5cc3c6" stroke="#8fd6d6" stroke-width="0.6" textLength="55" lengthAdjust="spacingAndGlyphs" transform="rotate(1.5 1112.5 477)">01234567</text><text x="1113.0" y="499" font-size="10" font-weight="bold" fill="#3fb0c4">8</text><text x="1114.5" y="508" font-size="10" font-weight="bold" fill="#3fa6c4">9</text><rect x="1122.0" y="501.9" width="5.0" height="6.1" fill="#8a9cc0"/><rect x="1120.7" y="507.7" width="7.6" height="1.8" rx="0.7" fill="#5a4a55"/><rect x="1120.9" y="494.4" width="7.2" height="8.6" rx="1.1" fill="#efc2c2"/><circle cx="1124.5" cy="491.4" r="3.8" fill="#f1c6c0"/><path d="M1120.4,491.0 A4.1,4.2 0 0 1 1128.6,491.0 L1127.2,489.1 L1121.8,489.3 Z" fill="#e9b9b4"/><rect x="1130.2" y="502.7" width="5.0" height="6.1" fill="#5f78a8"/><rect x="1128.9" y="508.5" width="7.6" height="1.8" rx="0.7" fill="#5a4a55"/><rect x="1129.1" y="495.2" width="7.2" height="8.6" rx="1.1" fill="#b85a7a"/><circle cx="1132.7" cy="492.2" r="3.8" fill="#e9b9a2"/><path d="M1128.6,491.8 A4.1,4.2 0 0 1 1136.8,491.8 L1135.4,489.9 L1130.0,490.1 Z" fill="#a3482d"/><rect x="1138.4" y="501.9" width="5.0" height="6.1" fill="#6a7fae"/><rect x="1137.1" y="507.7" width="7.6" height="1.8" rx="0.7" fill="#5a4a55"/><rect x="1137.3" y="494.4" width="7.2" height="8.6" rx="1.1" fill="#7fb7a0"/><circle cx="1140.9" cy="491.4" r="3.8" fill="#d9a884"/><path d="M1136.8,491.0 A4.1,4.2 0 0 1 1145.0,491.0 L1143.6,489.1 L1138.2,489.3 Z" fill="#2a2422"/><rect x="1146.6" y="502.7" width="5.0" height="6.1" fill="#54525a"/><rect x="1145.3" y="508.5" width="7.6" height="1.8" rx="0.7" fill="#5a4a55"/><rect x="1145.5" y="495.2" width="7.2" height="8.6" rx="1.1" fill="#9ad0cc"/><circle cx="1149.1" cy="492.2" r="3.8" fill="#8a5a3c"/><path d="M1145.0,491.8 A4.1,4.2 0 0 1 1153.2,491.8 L1151.8,489.9 L1146.4,490.1 Z" fill="#2b1d18"/><text x="1110.5" y="537.3" font-size="14" font-weight="bold" fill="#5cc3c6" stroke="#8fd6d6" stroke-width="0.6" textLength="55" lengthAdjust="spacingAndGlyphs" transform="rotate(1.5 1110 525)">01234567</text><text x="1110.5" y="547" font-size="10" font-weight="bold" fill="#3fb0c4">8</text><text x="1112" y="556" font-size="10" font-weight="bold" fill="#3fa6c4">9</text><rect x="1119.5" y="549.9" width="5.0" height="6.1" fill="#8a9cc0"/><rect x="1118.2" y="555.7" width="7.6" height="1.8" rx="0.7" fill="#5a4a55"/><rect x="1118.4" y="542.4" width="7.2" height="8.6" rx="1.1" fill="#efc2c2"/><circle cx="1122.0" cy="539.4" r="3.8" fill="#f1c6c0"/><path d="M1117.9,539.0 A4.1,4.2 0 0 1 1126.1,539.0 L1124.7,537.1 L1119.3,537.3 Z" fill="#e9b9b4"/><rect x="1127.7" y="550.6" width="5.0" height="6.1" fill="#5f78a8"/><rect x="1126.4" y="556.5" width="7.6" height="1.8" rx="0.7" fill="#5a4a55"/><rect x="1126.6" y="543.2" width="7.2" height="8.6" rx="1.1" fill="#b85a7a"/><circle cx="1130.2" cy="540.2" r="3.8" fill="#e9b9a2"/><path d="M1126.1,539.8 A4.1,4.2 0 0 1 1134.3,539.8 L1132.9,537.9 L1127.5,538.1 Z" fill="#a3482d"/><rect x="1135.9" y="549.9" width="5.0" height="6.1" fill="#6a7fae"/><rect x="1134.6" y="555.7" width="7.6" height="1.8" rx="0.7" fill="#5a4a55"/><rect x="1134.8" y="542.4" width="7.2" height="8.6" rx="1.1" fill="#7fb7a0"/><circle cx="1138.4" cy="539.4" r="3.8" fill="#d9a884"/><path d="M1134.3,539.0 A4.1,4.2 0 0 1 1142.5,539.0 L1141.1,537.1 L1135.7,537.3 Z" fill="#2a2422"/><rect x="1144.1" y="550.6" width="5.0" height="6.1" fill="#54525a"/><rect x="1142.8" y="556.5" width="7.6" height="1.8" rx="0.7" fill="#5a4a55"/><rect x="1143.0" y="543.2" width="7.2" height="8.6" rx="1.1" fill="#9ad0cc"/><circle cx="1146.6" cy="540.2" r="3.8" fill="#8a5a3c"/><path d="M1142.5,539.8 A4.1,4.2 0 0 1 1150.7,539.8 L1149.3,537.9 L1143.9,538.1 Z" fill="#2b1d18"/><text x="789.1" y="602.3" font-size="14" font-weight="bold" fill="#5cc3c6" stroke="#8fd6d6" stroke-width="0.6" textLength="55" lengthAdjust="spacingAndGlyphs" transform="rotate(1.5 788.6 590)">01234567</text><text x="789.1" y="612" font-size="10" font-weight="bold" fill="#3fb0c4">8</text><text x="790.6" y="621" font-size="10" font-weight="bold" fill="#3fa6c4">9</text><rect x="798.1" y="614.9" width="5.0" height="6.1" fill="#8a9cc0"/><rect x="796.8" y="620.7" width="7.6" height="1.8" rx="0.7" fill="#5a4a55"/><rect x="797.0" y="607.4" width="7.2" height="8.6" rx="1.1" fill="#efc2c2"/><circle cx="800.6" cy="604.4" r="3.8" fill="#f1c6c0"/><path d="M796.5,604.0 A4.1,4.2 0 0 1 804.7,604.0 L803.3,602.1 L797.9,602.3 Z" fill="#e9b9b4"/><rect x="806.3" y="615.6" width="5.0" height="6.1" fill="#5f78a8"/><rect x="805.0" y="621.5" width="7.6" height="1.8" rx="0.7" fill="#5a4a55"/><rect x="805.2" y="608.2" width="7.2" height="8.6" rx="1.1" fill="#b85a7a"/><circle cx="808.8" cy="605.2" r="3.8" fill="#e9b9a2"/><path d="M804.7,604.8 A4.1,4.2 0 0 1 812.9,604.8 L811.5,602.9 L806.1,603.1 Z" fill="#a3482d"/><rect x="814.5" y="614.9" width="5.0" height="6.1" fill="#6a7fae"/><rect x="813.2" y="620.7" width="7.6" height="1.8" rx="0.7" fill="#5a4a55"/><rect x="813.4" y="607.4" width="7.2" height="8.6" rx="1.1" fill="#7fb7a0"/><circle cx="817.0" cy="604.4" r="3.8" fill="#d9a884"/><path d="M812.9,604.0 A4.1,4.2 0 0 1 821.1,604.0 L819.7,602.1 L814.3,602.3 Z" fill="#2a2422"/><rect x="822.7" y="615.6" width="5.0" height="6.1" fill="#54525a"/><rect x="821.4" y="621.5" width="7.6" height="1.8" rx="0.7" fill="#5a4a55"/><rect x="821.6" y="608.2" width="7.2" height="8.6" rx="1.1" fill="#9ad0cc"/><circle cx="825.2" cy="605.2" r="3.8" fill="#8a5a3c"/><path d="M821.1,604.8 A4.1,4.2 0 0 1 829.3,604.8 L827.9,602.9 L822.5,603.1 Z" fill="#2b1d18"/><rect x="819" y="472" width="4.5" height="26" rx="2" fill="#a7763f" transform="rotate(9 821 485)"/><circle cx="824.5" cy="475" r="3.6" fill="#8a8d90"/><circle cx="831.5" cy="475" r="3.6" fill="#8a8d90"/><rect x="830" y="477" width="3.4" height="14" fill="#9a9da0"/><circle cx="798.5" cy="488" r="6.5" fill="none" stroke="#2a2a2a" stroke-width="1.6"/><rect x="795.7" y="500.3" width="5.6" height="6.5" fill="#e8e8e8"/><rect x="794.3" y="506.6" width="8.4" height="1.9" rx="0.7" fill="#ddd"/><rect x="794.5" y="492.4" width="8.0" height="9.1" rx="1.2" fill="#9a6ac0"/><circle cx="798.5" cy="489.2" r="4.1" fill="#8a5a3c"/><path d="M794.1,488.8 A4.4,4.5 0 0 1 802.9,488.8 L801.4,486.7 L795.6,486.9 Z" fill="#3a2418"/><circle cx="799" cy="503.5" r="5.4" fill="#a87a52"/><rect x="791" y="498.5" width="6" height="2" fill="#d8d8d8"/><rect x="802" y="498.5" width="6" height="2" fill="#2aa6a0"/><rect x="810.0" y="502.0" width="5.0" height="6.8" fill="#5f78a8"/><rect x="808.7" y="508.5" width="7.6" height="2.0" rx="0.8" fill="#c8323c"/><rect x="808.9" y="493.8" width="7.2" height="9.5" rx="1.2" fill="#2a2a30"/><circle cx="812.5" cy="490.4" r="4.2" fill="#e9b9a2"/><path d="M807.9,490.0 A4.6,4.7 0 0 1 817.1,490.0 L815.5,487.8 L809.5,488.1 Z" fill="#6a4a32"/><rect x="805" y="495" width="11" height="2.4" fill="#c8323c" transform="rotate(-20 810 496)"/><rect x="818.5" y="502.2" width="5.0" height="7.0" fill="#c9a27a"/><rect x="817.2" y="508.9" width="7.6" height="2.1" rx="0.8" fill="#d8327a"/><rect x="817.4" y="493.6" width="7.2" height="9.9" rx="1.3" fill="#b98a5a"/><circle cx="821.0" cy="490.1" r="4.4" fill="#e9b9a2"/><path d="M815.9,493.4 V489.4 A5.1,4.9 0 0 1 826.1,489.4 V493.4 L824.3,488.1 L817.7,488.1 Z" fill="#2b9aa0"/><rect x="828.0" y="502.0" width="5.0" height="6.8" fill="#6a8a9a"/><rect x="826.7" y="508.5" width="7.6" height="2.0" rx="0.8" fill="#3a8a6a"/><rect x="826.9" y="493.8" width="7.2" height="9.5" rx="1.2" fill="#8a8d90"/><circle cx="830.5" cy="490.4" r="4.2" fill="#f1c6c0"/><path d="M825.9,490.0 A4.6,4.7 0 0 1 835.1,490.0 L833.5,487.8 L827.5,488.1 Z" fill="#d06a5a"/><rect x="825" y="498" width="11" height="1.6" fill="#444"/><rect x="775.6" y="532" width="68" height="28" fill="#17171a"/><rect x="779.9" y="549.7" width="4.7" height="6.6" fill="#d8a880"/><rect x="778.8" y="556.0" width="7.1" height="2.0" rx="0.7" fill="#b8b8c0"/><rect x="778.9" y="541.6" width="6.7" height="9.3" rx="1.2" fill="#9acb5a"/><circle cx="782.3" cy="538.3" r="4.2" fill="#e9b9a2"/><path d="M777.8,537.9 A4.5,4.6 0 0 1 786.8,537.9 L785.2,535.8 L779.4,536.0 Z" fill="#2a1c16"/><rect x="787.9" y="550.3" width="4.7" height="6.6" fill="#5f78a8"/><rect x="786.8" y="556.6" width="7.1" height="2.0" rx="0.7" fill="#b8b8c0"/><rect x="786.9" y="542.2" width="6.7" height="9.3" rx="1.2" fill="#a87a52"/><circle cx="790.3" cy="538.9" r="4.2" fill="#f1c6c0"/><path d="M785.8,538.5 A4.5,4.6 0 0 1 794.8,538.5 L793.2,536.4 L787.4,536.6 Z" fill="#d84a2a"/><rect x="795.9" y="549.7" width="4.7" height="6.6" fill="#2a2a2a"/><rect x="794.8" y="556.0" width="7.1" height="2.0" rx="0.7" fill="#b8b8c0"/><rect x="794.9" y="541.6" width="6.7" height="9.3" rx="1.2" fill="#8ad03a"/><circle cx="798.3" cy="538.3" r="4.2" fill="#c99a7a"/><path d="M793.8,537.9 A4.5,4.6 0 0 1 802.8,537.9 L801.2,535.8 L795.4,536.0 Z" fill="#1c1c1c"/><rect x="803.9" y="550.3" width="4.7" height="6.6" fill="#8a9cc0"/><rect x="802.8" y="556.6" width="7.1" height="2.0" rx="0.7" fill="#b8b8c0"/><rect x="802.9" y="542.2" width="6.7" height="9.3" rx="1.2" fill="#b9a0d0"/><circle cx="806.3" cy="538.9" r="4.2" fill="#f1c6c0"/><path d="M801.8,538.5 A4.5,4.6 0 0 1 810.8,538.5 L809.2,536.4 L803.4,536.6 Z" fill="#e8d08a"/><rect x="811.9" y="549.7" width="4.7" height="6.6" fill="#6a7fae"/><rect x="810.8" y="556.0" width="7.1" height="2.0" rx="0.7" fill="#b8b8c0"/><rect x="810.9" y="541.6" width="6.7" height="9.3" rx="1.2" fill="#d86a8a"/><circle cx="814.3" cy="538.3" r="4.2" fill="#e9b9a2"/><path d="M809.8,537.9 A4.5,4.6 0 0 1 818.8,537.9 L817.2,535.8 L811.4,536.0 Z" fill="#17171a"/><rect x="819.9" y="550.3" width="4.7" height="6.6" fill="#5f78a8"/><rect x="818.8" y="556.6" width="7.1" height="2.0" rx="0.7" fill="#b8b8c0"/><rect x="818.9" y="542.2" width="6.7" height="9.3" rx="1.2" fill="#2a4ac8"/><circle cx="822.3" cy="538.9" r="4.2" fill="#f1c6c0"/><path d="M817.8,538.5 A4.5,4.6 0 0 1 826.8,538.5 L825.2,536.4 L819.4,536.6 Z" fill="#e8c84a"/><rect x="827.9" y="549.7" width="4.7" height="6.6" fill="#54525a"/><rect x="826.8" y="556.0" width="7.1" height="2.0" rx="0.7" fill="#b8b8c0"/><rect x="826.9" y="541.6" width="6.7" height="9.3" rx="1.2" fill="#f2691c"/><circle cx="830.3" cy="538.3" r="4.2" fill="#d9a884"/><path d="M825.8,537.9 A4.5,4.6 0 0 1 834.8,537.9 L833.2,535.8 L827.4,536.0 Z" fill="#2a1c16"/><rect x="835.9" y="550.3" width="4.7" height="6.6" fill="#5f78a8"/><rect x="834.8" y="556.6" width="7.1" height="2.0" rx="0.7" fill="#b8b8c0"/><rect x="834.9" y="542.2" width="6.7" height="9.3" rx="1.2" fill="#8a8a8a"/><circle cx="838.3" cy="538.9" r="4.2" fill="#e9b9a2"/><path d="M833.8,538.5 A4.5,4.6 0 0 1 842.8,538.5 L841.2,536.4 L835.4,536.6 Z" fill="#7a5a3c"/><rect x="1028.9" y="495.9" width="7.3" height="10.8" fill="#5f78a8"/><rect x="1027.0" y="506.3" width="10.9" height="3.2" rx="1.2" fill="#6a7a9a"/><rect x="1027.3" y="482.7" width="10.4" height="15.2" rx="2.0" fill="#f2f2f4"/><circle cx="1032.5" cy="477.3" r="6.8" fill="#f1c6c0"/><path d="M1024.7,482.4 V476.3 A7.8,7.5 0 0 1 1040.3,476.3 V482.4 L1037.6,474.3 L1027.4,474.3 Z" fill="#e8c84a"/><rect x="1039.9" y="496.6" width="7.3" height="10.3" fill="#5f78a8"/><rect x="1038.0" y="506.5" width="10.9" height="3.0" rx="1.1" fill="#6a7a9a"/><rect x="1038.3" y="484.0" width="10.4" height="14.4" rx="1.9" fill="#f2f2f4"/><circle cx="1043.5" cy="478.9" r="6.5" fill="#b07a56"/><path d="M1036.5,478.3 A7.0,7.1 0 0 1 1050.5,478.3 L1048.0,475.1 L1039.0,475.4 Z" fill="#3a2418"/><rect x="1028.6" y="475.5" width="8" height="3.6" rx="1.6" fill="#cfe4f0" stroke="#c8323c" stroke-width="0.5"/><rect x="1039.6" y="477.5" width="8" height="3.6" rx="1.6" fill="#cfe4f0" stroke="#c8323c" stroke-width="0.5"/><rect x="1036" y="489.5" width="3" height="9" rx="1.4" fill="#2a2a2e"/><rect x="1047.5" y="490.5" width="2.6" height="8" rx="1.2" fill="#2a2a2e"/><rect x="1029.9" y="542.9" width="7.3" height="10.8" fill="#5f78a8"/><rect x="1028.0" y="553.3" width="10.9" height="3.2" rx="1.2" fill="#6a7a9a"/><rect x="1028.3" y="529.7" width="10.4" height="15.2" rx="2.0" fill="#f2f2f4"/><circle cx="1033.5" cy="524.3" r="6.8" fill="#f1c6c0"/><path d="M1025.7,529.4 V523.3 A7.8,7.5 0 0 1 1041.3,523.3 V529.4 L1038.6,521.3 L1028.4,521.3 Z" fill="#e8c84a"/><rect x="1040.9" y="543.6" width="7.3" height="10.3" fill="#5f78a8"/><rect x="1039.0" y="553.5" width="10.9" height="3.0" rx="1.1" fill="#6a7a9a"/><rect x="1039.3" y="531.0" width="10.4" height="14.4" rx="1.9" fill="#f2f2f4"/><circle cx="1044.5" cy="525.9" r="6.5" fill="#b07a56"/><path d="M1037.5,525.3 A7.0,7.1 0 0 1 1051.5,525.3 L1049.0,522.1 L1040.0,522.4 Z" fill="#3a2418"/><rect x="1029.6" y="522.5" width="8" height="3.6" rx="1.6" fill="#cfe4f0" stroke="#c8323c" stroke-width="0.5"/><rect x="1040.6" y="524.5" width="8" height="3.6" rx="1.6" fill="#cfe4f0" stroke="#c8323c" stroke-width="0.5"/><rect x="1037" y="536.5" width="3" height="9" rx="1.4" fill="#2a2a2e"/><rect x="1048.5" y="537.5" width="2.6" height="8" rx="1.2" fill="#2a2a2e"/><rect x="916.9" y="611.4" width="7.3" height="10.8" fill="#5f78a8"/><rect x="915.0" y="621.8" width="10.9" height="3.2" rx="1.2" fill="#6a7a9a"/><rect x="915.3" y="598.2" width="10.4" height="15.2" rx="2.0" fill="#f2f2f4"/><circle cx="920.5" cy="592.8" r="6.8" fill="#f1c6c0"/><path d="M912.7,597.9 V591.8 A7.8,7.5 0 0 1 928.3,591.8 V597.9 L925.6,589.8 L915.4,589.8 Z" fill="#e8c84a"/><rect x="927.9" y="612.1" width="7.3" height="10.3" fill="#5f78a8"/><rect x="926.0" y="622.0" width="10.9" height="3.0" rx="1.1" fill="#6a7a9a"/><rect x="926.3" y="599.5" width="10.4" height="14.4" rx="1.9" fill="#f2f2f4"/><circle cx="931.5" cy="594.4" r="6.5" fill="#b07a56"/><path d="M924.5,593.8 A7.0,7.1 0 0 1 938.5,593.8 L936.0,590.6 L927.0,590.9 Z" fill="#3a2418"/><rect x="916.6" y="591" width="8" height="3.6" rx="1.6" fill="#cfe4f0" stroke="#c8323c" stroke-width="0.5"/><rect x="927.6" y="593" width="8" height="3.6" rx="1.6" fill="#cfe4f0" stroke="#c8323c" stroke-width="0.5"/><rect x="924" y="605" width="3" height="9" rx="1.4" fill="#2a2a2e"/><rect x="935.5" y="606" width="2.6" height="8" rx="1.2" fill="#2a2a2e"/><rect x="694.6" y="583" width="33" height="40" fill="#f3f1ee"/><rect x="725.0" y="582" width="2.4" height="41" fill="#e8327a"/><circle cx="699.1" cy="587.5" r="4.2" fill="#f6f2e6"/><circle cx="707.6" cy="587" r="4.6" fill="#f6a623"/><circle cx="704.1" cy="595" r="4.3" fill="#e8692a"/><circle cx="705.1" cy="603.5" r="4.6" fill="#a9acae"/><circle cx="713.1" cy="603" r="4.2" fill="#d8322e"/><circle cx="699.6" cy="610" r="3.6" fill="#3a3a3a"/><circle cx="709.1" cy="611.5" r="4.2" fill="#ecebe6"/><circle cx="700.1" cy="618" r="4.2" fill="#eee6d8"/><circle cx="709.1" cy="618.5" r="4" fill="#c9c23a"/><circle cx="717.1" cy="617" r="3.6" fill="#f4f4f4"/><circle cx="718.1" cy="610" r="3" fill="#7a5a3a"/><circle cx="722.1" cy="612" r="3" fill="#d8322e"/><rect x="712.9" y="593.6" width="3.4" height="4.3" fill="#9aa0b0"/><rect x="712.1" y="597.7" width="5.0" height="1.3" rx="0.5" fill="#555"/><rect x="712.2" y="588.3" width="4.8" height="6.1" rx="0.8" fill="#6a7a9a"/><circle cx="714.6" cy="586.1" r="2.7" fill="#e9b9a2"/><path d="M711.7,585.9 A2.9,3.0 0 0 1 717.5,585.9 L716.5,584.5 L712.7,584.6 Z" fill="#3a2a22"/><rect x="719.4" y="593.6" width="3.4" height="4.3" fill="#9aa0b0"/><rect x="718.6" y="597.7" width="5.0" height="1.3" rx="0.5" fill="#555"/><rect x="718.7" y="588.3" width="4.8" height="6.1" rx="0.8" fill="#c8484a"/><circle cx="721.1" cy="586.1" r="2.7" fill="#e9b9a2"/><path d="M718.2,585.9 A2.9,3.0 0 0 1 724.0,585.9 L723.0,584.5 L719.2,584.6 Z" fill="#8a4a2a"/><rect x="696.6" y="590" width="1.4" height="12" fill="#6a4a3a"/><rect x="911.6" y="630" width="33" height="40" fill="#f3f1ee"/><rect x="942.0" y="629" width="2.4" height="41" fill="#e8327a"/><circle cx="916.1" cy="634.5" r="4.2" fill="#f6f2e6"/><circle cx="924.6" cy="634" r="4.6" fill="#f6a623"/><circle cx="921.1" cy="642" r="4.3" fill="#e8692a"/><circle cx="922.1" cy="650.5" r="4.6" fill="#a9acae"/><circle cx="930.1" cy="650" r="4.2" fill="#d8322e"/><circle cx="916.6" cy="657" r="3.6" fill="#3a3a3a"/><circle cx="926.1" cy="658.5" r="4.2" fill="#ecebe6"/><circle cx="917.1" cy="665" r="4.2" fill="#eee6d8"/><circle cx="926.1" cy="665.5" r="4" fill="#c9c23a"/><circle cx="934.1" cy="664" r="3.6" fill="#f4f4f4"/><circle cx="935.1" cy="657" r="3" fill="#7a5a3a"/><circle cx="939.1" cy="659" r="3" fill="#d8322e"/><rect x="929.9" y="640.6" width="3.4" height="4.3" fill="#9aa0b0"/><rect x="929.1" y="644.7" width="5.0" height="1.3" rx="0.5" fill="#555"/><rect x="929.2" y="635.3" width="4.8" height="6.1" rx="0.8" fill="#6a7a9a"/><circle cx="931.6" cy="633.1" r="2.7" fill="#e9b9a2"/><path d="M928.7,632.9 A2.9,3.0 0 0 1 934.5,632.9 L933.5,631.5 L929.7,631.6 Z" fill="#3a2a22"/><rect x="936.4" y="640.6" width="3.4" height="4.3" fill="#9aa0b0"/><rect x="935.6" y="644.7" width="5.0" height="1.3" rx="0.5" fill="#555"/><rect x="935.7" y="635.3" width="4.8" height="6.1" rx="0.8" fill="#c8484a"/><circle cx="938.1" cy="633.1" r="2.7" fill="#e9b9a2"/><path d="M935.2,632.9 A2.9,3.0 0 0 1 941.0,632.9 L940.0,631.5 L936.2,631.6 Z" fill="#8a4a2a"/><rect x="913.6" y="637" width="1.4" height="12" fill="#6a4a3a"/><path d="M700.4,647 V637 a11,10 0 0 1 22,0 V647 Z" fill="#1c1616"/><circle cx="711.4" cy="640.5" r="8" fill="#7a4a32"/><path d="M699.4,628 l6,2.6 l3,-3.2 l1.4,5.4 l-6,2.4 Z" fill="#e8327a"/><rect x="704.0" y="638" width="7" height="5.4" rx="2.4" fill="#f4f8fa" stroke="#cfd8dc" stroke-width="0.6"/><rect x="711.8" y="638" width="7" height="5.4" rx="2.4" fill="#f4f8fa" stroke="#cfd8dc" stroke-width="0.6"/><rect x="701.8" y="646.5" width="20.5" height="3.3" rx="0.8" fill="#9a3a8a"/><rect x="702.5999999999999" y="649.4" width="19.3" height="3.3" rx="0.8" fill="#6ab43a"/><rect x="701.8" y="652.6" width="20.5" height="3.3" rx="0.8" fill="#e8d23a"/><rect x="702.5999999999999" y="655.6" width="19.3" height="3.3" rx="0.8" fill="#e6e8ea"/><rect x="701.8" y="658.6" width="20.5" height="3.3" rx="0.8" fill="#3a8a5a"/><rect x="702.5999999999999" y="661.8" width="19.3" height="3.3" rx="0.8" fill="#3a3aa8"/><rect x="703.4" y="665" width="17" height="3" fill="#4a52b8"/><rect x="702.4" y="667.6" width="19" height="2.2" rx="1" fill="#9a9a9e"/><circle cx="701.4" cy="666" r="2" fill="#7a4a32"/><circle cx="722.9" cy="666" r="2" fill="#7a4a32"/><rect x="799.4" y="637.2" width="3.8" height="4.2" fill="#5f78a8"/><rect x="798.4" y="641.3" width="5.7" height="1.2" rx="0.5" fill="#888"/><rect x="798.6" y="632.1" width="5.4" height="5.9" rx="0.8" fill="#7ac03a"/><circle cx="801.3" cy="630.0" r="2.6" fill="#e9b9a2"/><path d="M798.5,629.8 A2.8,2.9 0 0 1 804.1,629.8 L803.1,628.4 L799.5,628.6 Z" fill="#7a5a3c"/><rect x="807.4" y="637.2" width="3.8" height="4.2" fill="#e8e8e8"/><rect x="806.4" y="641.3" width="5.7" height="1.2" rx="0.5" fill="#888"/><rect x="806.6" y="632.1" width="5.4" height="5.9" rx="0.8" fill="#e83a3a"/><circle cx="809.3" cy="630.0" r="2.6" fill="#f1c6c0"/><path d="M806.5,629.8 A2.8,2.9 0 0 1 812.1,629.8 L811.1,628.4 L807.5,628.6 Z" fill="#e8c84a"/><rect x="815.4" y="637.2" width="3.8" height="4.2" fill="#777"/><rect x="814.4" y="641.3" width="5.7" height="1.2" rx="0.5" fill="#888"/><rect x="814.6" y="632.1" width="5.4" height="5.9" rx="0.8" fill="#b05ac0"/><circle cx="817.3" cy="630.0" r="2.6" fill="#c99a7a"/><path d="M814.5,629.8 A2.8,2.9 0 0 1 820.1,629.8 L819.1,628.4 L815.5,628.6 Z" fill="#2a1c16"/><rect x="823.4" y="637.2" width="3.8" height="4.2" fill="#3a8a4a"/><rect x="822.4" y="641.3" width="5.7" height="1.2" rx="0.5" fill="#888"/><rect x="822.6" y="632.1" width="5.4" height="5.9" rx="0.8" fill="#f4f4f4"/><circle cx="825.3" cy="630.0" r="2.6" fill="#e9b9a2"/><path d="M822.5,629.8 A2.8,2.9 0 0 1 828.1,629.8 L827.1,628.4 L823.5,628.6 Z" fill="#3a2418"/><rect x="800.6" y="651.4" width="3.8" height="4.2" fill="#5f78a8"/><rect x="799.6" y="655.5" width="5.7" height="1.2" rx="0.5" fill="#888"/><rect x="799.8" y="646.3" width="5.4" height="5.9" rx="0.8" fill="#e8327a"/><circle cx="802.5" cy="644.2" r="2.6" fill="#d9a884"/><path d="M799.7,644.0 A2.8,2.9 0 0 1 805.3,644.0 L804.3,642.6 L800.7,642.8 Z" fill="#2a1c16"/><rect x="808.6" y="651.4" width="3.8" height="4.2" fill="#c8323c"/><rect x="807.6" y="655.5" width="5.7" height="1.2" rx="0.5" fill="#888"/><rect x="807.8" y="646.3" width="5.4" height="5.9" rx="0.8" fill="#f2c21c"/><circle cx="810.5" cy="644.2" r="2.6" fill="#e9b9a2"/><path d="M807.7,644.0 A2.8,2.9 0 0 1 813.3,644.0 L812.3,642.6 L808.7,642.8 Z" fill="#17171a"/><rect x="816.6" y="651.4" width="3.8" height="4.2" fill="#6a7fae"/><rect x="815.6" y="655.5" width="5.7" height="1.2" rx="0.5" fill="#888"/><rect x="815.8" y="646.3" width="5.4" height="5.9" rx="0.8" fill="#8a8d90"/><circle cx="818.5" cy="644.2" r="2.6" fill="#f1c6c0"/><path d="M815.7,644.0 A2.8,2.9 0 0 1 821.3,644.0 L820.3,642.6 L816.7,642.8 Z" fill="#8a4a2a"/><rect x="824.6" y="651.4" width="3.8" height="4.2" fill="#c8323c"/><rect x="823.6" y="655.5" width="5.7" height="1.2" rx="0.5" fill="#888"/><rect x="823.8" y="646.3" width="5.4" height="5.9" rx="0.8" fill="#3a5ac8"/><circle cx="826.5" cy="644.2" r="2.6" fill="#f1c6c0"/><path d="M823.7,644.0 A2.8,2.9 0 0 1 829.3,644.0 L828.3,642.6 L824.7,642.8 Z" fill="#e8d08a"/><rect x="799.4" y="665.6" width="3.8" height="4.2" fill="#c8323c"/><rect x="798.4" y="669.7" width="5.7" height="1.2" rx="0.5" fill="#888"/><rect x="798.6" y="660.5" width="5.4" height="5.9" rx="0.8" fill="#f4f4f4"/><circle cx="801.3" cy="658.4" r="2.6" fill="#e9b9a2"/><path d="M798.5,658.2 A2.8,2.9 0 0 1 804.1,658.2 L803.1,656.8 L799.5,657.0 Z" fill="#a4472e"/><rect x="807.4" y="665.6" width="3.8" height="4.2" fill="#8a7a3a"/><rect x="806.4" y="669.7" width="5.7" height="1.2" rx="0.5" fill="#888"/><rect x="806.6" y="660.5" width="5.4" height="5.9" rx="0.8" fill="#e8e8e8"/><circle cx="809.3" cy="658.4" r="2.6" fill="#f1c6c0"/><path d="M806.5,658.2 A2.8,2.9 0 0 1 812.1,658.2 L811.1,656.8 L807.5,657.0 Z" fill="#d8d0c0"/><rect x="815.4" y="665.6" width="3.8" height="4.2" fill="#5f78a8"/><rect x="814.4" y="669.7" width="5.7" height="1.2" rx="0.5" fill="#888"/><rect x="814.6" y="660.5" width="5.4" height="5.9" rx="0.8" fill="#9ad03a"/><circle cx="817.3" cy="658.4" r="2.6" fill="#c99a7a"/><path d="M814.5,658.2 A2.8,2.9 0 0 1 820.1,658.2 L819.1,656.8 L815.5,657.0 Z" fill="#3a2418"/><rect x="823.4" y="665.6" width="3.8" height="4.2" fill="#3ab0c0"/><rect x="822.4" y="669.7" width="5.7" height="1.2" rx="0.5" fill="#888"/><rect x="822.6" y="660.5" width="5.4" height="5.9" rx="0.8" fill="#f2d21c"/><circle cx="825.3" cy="658.4" r="2.6" fill="#f1c6c0"/><path d="M822.5,658.2 A2.8,2.9 0 0 1 828.1,658.2 L827.1,656.8 L823.5,657.0 Z" fill="#c88a3a"/><rect x="1019.5" y="580.5" width="2" height="16" fill="#6a4a2a" transform="rotate(-32 1020.5 588.5)"/><circle cx="1017.2" cy="581.7" r="2" fill="#e8c21c"/><rect x="1010.3" y="612.6" width="8.4" height="11.1" fill="#5f78a8"/><rect x="1008.2" y="623.2" width="12.6" height="3.3" rx="1.2" fill="#d8327a"/><rect x="1008.5" y="599.0" width="12.0" height="15.6" rx="2.1" fill="#f2f2f4"/><circle cx="1014.5" cy="593.5" r="7.0" fill="#d9a884"/><path d="M1006.5,598.7 V592.5 A8.0,7.7 0 0 1 1022.5,592.5 V598.7 L1019.7,590.4 L1009.3,590.4 Z" fill="#17171a"/><rect x="1008" y="588.0" width="11" height="3" fill="#3ab0c8"/><circle cx="1016.5" cy="606.5" r="1.6" fill="#7ac03a"/><rect x="1032.3" y="612.6" width="8.4" height="11.1" fill="#5f78a8"/><rect x="1030.2" y="623.2" width="12.6" height="3.3" rx="1.2" fill="#a87a3a"/><rect x="1030.5" y="599.0" width="12.0" height="15.6" rx="2.1" fill="#f2f2f4"/><circle cx="1036.5" cy="593.5" r="7.0" fill="#e0a882"/><path d="M1029.0,592.8 A7.5,7.7 0 0 1 1044.0,592.8 L1041.4,589.3 L1031.6,589.7 Z" fill="#2a1c16"/><ellipse cx="1032.5" cy="608.5" rx="4.2" ry="3.4" fill="#c9a87a"/><rect x="1042.5" y="599.5" width="1.6" height="10" fill="#a87a3a"/><rect x="1018.0" y="627.5" width="2" height="16" fill="#6a4a2a" transform="rotate(-32 1019.0 635.5)"/><circle cx="1015.7" cy="628.7" r="2" fill="#e8c21c"/><rect x="1008.8" y="659.6" width="8.4" height="11.1" fill="#5f78a8"/><rect x="1006.7" y="670.2" width="12.6" height="3.3" rx="1.2" fill="#d8327a"/><rect x="1007.0" y="646.0" width="12.0" height="15.6" rx="2.1" fill="#f2f2f4"/><circle cx="1013.0" cy="640.5" r="7.0" fill="#d9a884"/><path d="M1005.0,645.7 V639.5 A8.0,7.7 0 0 1 1021.0,639.5 V645.7 L1018.2,637.4 L1007.8,637.4 Z" fill="#17171a"/><rect x="1006.5" y="635.0" width="11" height="3" fill="#3ab0c8"/><circle cx="1015.0" cy="653.5" r="1.6" fill="#7ac03a"/><rect x="1030.8" y="659.6" width="8.4" height="11.1" fill="#5f78a8"/><rect x="1028.7" y="670.2" width="12.6" height="3.3" rx="1.2" fill="#a87a3a"/><rect x="1029.0" y="646.0" width="12.0" height="15.6" rx="2.1" fill="#f2f2f4"/><circle cx="1035.0" cy="640.5" r="7.0" fill="#e0a882"/><path d="M1027.5,639.8 A7.5,7.7 0 0 1 1042.5,639.8 L1039.9,636.3 L1030.1,636.7 Z" fill="#2a1c16"/><ellipse cx="1031.0" cy="655.5" rx="4.2" ry="3.4" fill="#c9a87a"/><rect x="1041.0" y="646.5" width="1.6" height="10" fill="#a87a3a"/><rect x="1133.6" y="597.0" width="4.1" height="5.5" fill="#5f78a8"/><rect x="1132.6" y="602.4" width="6.2" height="1.6" rx="0.6" fill="#777"/><rect x="1132.7" y="590.3" width="5.9" height="7.8" rx="1.0" fill="#f4f4f6"/><circle cx="1135.7" cy="587.5" r="3.5" fill="#f1c6c0"/><path d="M1131.9,587.2 A3.8,3.8 0 0 1 1139.5,587.2 L1138.1,585.4 L1133.3,585.6 Z" fill="#e8d08a"/><rect x="1141.1" y="600.0" width="4.1" height="5.5" fill="#7a8ab0"/><rect x="1140.1" y="605.4" width="6.2" height="1.6" rx="0.6" fill="#777"/><rect x="1140.2" y="593.3" width="5.9" height="7.8" rx="1.0" fill="#f0f0f0"/><circle cx="1143.2" cy="590.5" r="3.5" fill="#e9b9a2"/><path d="M1139.4,590.2 A3.8,3.8 0 0 1 1147.0,590.2 L1145.6,588.4 L1140.8,588.6 Z" fill="#8a5a3c"/><rect x="1133.6" y="616.0" width="4.1" height="5.5" fill="#5f78a8"/><rect x="1132.6" y="621.4" width="6.2" height="1.6" rx="0.6" fill="#777"/><rect x="1132.7" y="609.3" width="5.9" height="7.8" rx="1.0" fill="#eeeeee"/><circle cx="1135.7" cy="606.5" r="3.5" fill="#d9a884"/><path d="M1131.9,606.2 A3.8,3.8 0 0 1 1139.5,606.2 L1138.1,604.4 L1133.3,604.6 Z" fill="#3a2418"/><rect x="1141.1" y="615.0" width="4.1" height="5.5" fill="#3ab0a8"/><rect x="1140.1" y="620.4" width="6.2" height="1.6" rx="0.6" fill="#777"/><rect x="1140.2" y="608.3" width="5.9" height="7.8" rx="1.0" fill="#e8e8e8"/><circle cx="1143.2" cy="605.5" r="3.5" fill="#f1c6c0"/><path d="M1139.4,605.2 A3.8,3.8 0 0 1 1147.0,605.2 L1145.6,603.4 L1140.8,603.6 Z" fill="#d8c08a"/><rect x="1149.1" y="617.0" width="4.1" height="5.5" fill="#888"/><rect x="1148.1" y="622.4" width="6.2" height="1.6" rx="0.6" fill="#c8323c"/><rect x="1148.2" y="610.3" width="5.9" height="7.8" rx="1.0" fill="#dcdcdc"/><circle cx="1151.2" cy="607.5" r="3.5" fill="#e9b9a2"/><path d="M1147.4,607.2 A3.8,3.8 0 0 1 1155.0,607.2 L1153.6,605.4 L1148.8,605.6 Z" fill="#2a1c16"/><rect x="1156.6" y="617.0" width="4.1" height="5.5" fill="#444"/><rect x="1155.6" y="622.4" width="6.2" height="1.6" rx="0.6" fill="#c8323c"/><rect x="1155.7" y="610.3" width="5.9" height="7.8" rx="1.0" fill="#f4f4f4"/><circle cx="1158.7" cy="607.5" r="3.5" fill="#f1c6c0"/><path d="M1154.9,607.2 A3.8,3.8 0 0 1 1162.5,607.2 L1161.1,605.4 L1156.3,605.6 Z" fill="#8a6a4a"/><rect x="1148" y="584.0" width="6.6" height="7.4" fill="#fbfbfb" stroke="#555" stroke-width="0.5"/><circle cx="1149.6" cy="585.8" r="0.8" fill="#222"/><circle cx="1152.8" cy="585.8" r="0.8" fill="#222"/><circle cx="1151.2" cy="587.7" r="0.8" fill="#222"/><circle cx="1149.6" cy="589.6" r="0.8" fill="#222"/><circle cx="1152.8" cy="589.6" r="0.8" fill="#222"/><rect x="1154.5" y="586.5" width="6.6" height="7.4" fill="#fbfbfb" stroke="#555" stroke-width="0.5"/><circle cx="1156.1" cy="588.3" r="0.8" fill="#222"/><circle cx="1159.3" cy="588.3" r="0.8" fill="#222"/><circle cx="1157.7" cy="590.2" r="0.8" fill="#222"/><circle cx="1156.1" cy="592.1" r="0.8" fill="#222"/><circle cx="1159.3" cy="592.1" r="0.8" fill="#222"/><rect x="1149" y="593.0" width="6.6" height="7.4" fill="#fbfbfb" stroke="#555" stroke-width="0.5"/><circle cx="1150.6" cy="594.8" r="0.8" fill="#222"/><circle cx="1153.8" cy="594.8" r="0.8" fill="#222"/><circle cx="1152.2" cy="596.7" r="0.8" fill="#222"/><circle cx="1150.6" cy="598.6" r="0.8" fill="#222"/><circle cx="1153.8" cy="598.6" r="0.8" fill="#222"/><rect x="1155" y="595.0" width="6.6" height="7.4" fill="#fbfbfb" stroke="#555" stroke-width="0.5"/><circle cx="1156.6" cy="596.8" r="0.8" fill="#222"/><circle cx="1159.8" cy="596.8" r="0.8" fill="#222"/><circle cx="1158.2" cy="598.7" r="0.8" fill="#222"/><circle cx="1156.6" cy="600.6" r="0.8" fill="#222"/><circle cx="1159.8" cy="600.6" r="0.8" fill="#222"/><rect x="1137.6" y="642.0" width="4.1" height="5.5" fill="#5f78a8"/><rect x="1136.6" y="647.4" width="6.2" height="1.6" rx="0.6" fill="#777"/><rect x="1136.7" y="635.3" width="5.9" height="7.8" rx="1.0" fill="#f4f4f6"/><circle cx="1139.7" cy="632.5" r="3.5" fill="#f1c6c0"/><path d="M1135.9,632.2 A3.8,3.8 0 0 1 1143.5,632.2 L1142.1,630.4 L1137.3,630.6 Z" fill="#e8d08a"/><rect x="1145.1" y="645.0" width="4.1" height="5.5" fill="#7a8ab0"/><rect x="1144.1" y="650.4" width="6.2" height="1.6" rx="0.6" fill="#777"/><rect x="1144.2" y="638.3" width="5.9" height="7.8" rx="1.0" fill="#f0f0f0"/><circle cx="1147.2" cy="635.5" r="3.5" fill="#e9b9a2"/><path d="M1143.4,635.2 A3.8,3.8 0 0 1 1151.0,635.2 L1149.6,633.4 L1144.8,633.6 Z" fill="#8a5a3c"/><rect x="1137.6" y="661.0" width="4.1" height="5.5" fill="#5f78a8"/><rect x="1136.6" y="666.4" width="6.2" height="1.6" rx="0.6" fill="#777"/><rect x="1136.7" y="654.3" width="5.9" height="7.8" rx="1.0" fill="#eeeeee"/><circle cx="1139.7" cy="651.5" r="3.5" fill="#d9a884"/><path d="M1135.9,651.2 A3.8,3.8 0 0 1 1143.5,651.2 L1142.1,649.4 L1137.3,649.6 Z" fill="#3a2418"/><rect x="1145.1" y="660.0" width="4.1" height="5.5" fill="#3ab0a8"/><rect x="1144.1" y="665.4" width="6.2" height="1.6" rx="0.6" fill="#777"/><rect x="1144.2" y="653.3" width="5.9" height="7.8" rx="1.0" fill="#e8e8e8"/><circle cx="1147.2" cy="650.5" r="3.5" fill="#f1c6c0"/><path d="M1143.4,650.2 A3.8,3.8 0 0 1 1151.0,650.2 L1149.6,648.4 L1144.8,648.6 Z" fill="#d8c08a"/><rect x="1153.1" y="662.0" width="4.1" height="5.5" fill="#888"/><rect x="1152.1" y="667.4" width="6.2" height="1.6" rx="0.6" fill="#c8323c"/><rect x="1152.2" y="655.3" width="5.9" height="7.8" rx="1.0" fill="#dcdcdc"/><circle cx="1155.2" cy="652.5" r="3.5" fill="#e9b9a2"/><path d="M1151.4,652.2 A3.8,3.8 0 0 1 1159.0,652.2 L1157.6,650.4 L1152.8,650.6 Z" fill="#2a1c16"/><rect x="1160.6" y="662.0" width="4.1" height="5.5" fill="#444"/><rect x="1159.6" y="667.4" width="6.2" height="1.6" rx="0.6" fill="#c8323c"/><rect x="1159.7" y="655.3" width="5.9" height="7.8" rx="1.0" fill="#f4f4f4"/><circle cx="1162.7" cy="652.5" r="3.5" fill="#f1c6c0"/><path d="M1158.9,652.2 A3.8,3.8 0 0 1 1166.5,652.2 L1165.1,650.4 L1160.3,650.6 Z" fill="#8a6a4a"/><rect x="1152" y="629.0" width="6.6" height="7.4" fill="#fbfbfb" stroke="#555" stroke-width="0.5"/><circle cx="1153.6" cy="630.8" r="0.8" fill="#222"/><circle cx="1156.8" cy="630.8" r="0.8" fill="#222"/><circle cx="1155.2" cy="632.7" r="0.8" fill="#222"/><circle cx="1153.6" cy="634.6" r="0.8" fill="#222"/><circle cx="1156.8" cy="634.6" r="0.8" fill="#222"/><rect x="1158.5" y="631.5" width="6.6" height="7.4" fill="#fbfbfb" stroke="#555" stroke-width="0.5"/><circle cx="1160.1" cy="633.3" r="0.8" fill="#222"/><circle cx="1163.3" cy="633.3" r="0.8" fill="#222"/><circle cx="1161.7" cy="635.2" r="0.8" fill="#222"/><circle cx="1160.1" cy="637.1" r="0.8" fill="#222"/><circle cx="1163.3" cy="637.1" r="0.8" fill="#222"/><rect x="1153" y="638.0" width="6.6" height="7.4" fill="#fbfbfb" stroke="#555" stroke-width="0.5"/><circle cx="1154.6" cy="639.8" r="0.8" fill="#222"/><circle cx="1157.8" cy="639.8" r="0.8" fill="#222"/><circle cx="1156.2" cy="641.7" r="0.8" fill="#222"/><circle cx="1154.6" cy="643.6" r="0.8" fill="#222"/><circle cx="1157.8" cy="643.6" r="0.8" fill="#222"/><rect x="1159" y="640.0" width="6.6" height="7.4" fill="#fbfbfb" stroke="#555" stroke-width="0.5"/><circle cx="1160.6" cy="641.8" r="0.8" fill="#222"/><circle cx="1163.8" cy="641.8" r="0.8" fill="#222"/><circle cx="1162.2" cy="643.7" r="0.8" fill="#222"/><circle cx="1160.6" cy="645.6" r="0.8" fill="#222"/><circle cx="1163.8" cy="645.6" r="0.8" fill="#222"/></g><g stroke="#1f2a6e" stroke-width="0.35" stroke-opacity="0.85"><text x="770.34" y="275.20" font-size="28.50" fill="#1f2a6e" textLength="256.85" lengthAdjust="spacingAndGlyphs" >1/2 B Timetable 2026</text><text x="654.88" y="294.60" font-size="17.50" fill="#1f2a6e" textLength="57.05" lengthAdjust="spacingAndGlyphs" >Monday</text><text x="762.65" y="294.60" font-size="17.50" fill="#1f2a6e" textLength="59.38" lengthAdjust="spacingAndGlyphs" >Tuesday</text><text x="858.33" y="294.60" font-size="17.50" fill="#1f2a6e" textLength="82.90" lengthAdjust="spacingAndGlyphs" >Wednesday</text><text x="974.44" y="294.60" font-size="17.50" fill="#1f2a6e" textLength="67.09" lengthAdjust="spacingAndGlyphs" >Thursday</text><text x="1091.61" y="294.60" font-size="17.50" fill="#1f2a6e" textLength="47.23" lengthAdjust="spacingAndGlyphs" >Friday</text><text x="640.76" y="312.20" font-size="9.40" font-weight="bold" fill="#3c4d8c" textLength="60.12" lengthAdjust="spacingAndGlyphs" >Mark the Roll</text><text x="638.29" y="325.30" font-size="9.40" font-weight="bold" fill="#3c4d8c" textLength="65.15" lengthAdjust="spacingAndGlyphs" >What's On For</text><text x="658.20" y="337.40" font-size="9.40" font-weight="bold" fill="#3c4d8c" textLength="25.14" lengthAdjust="spacingAndGlyphs" >Today</text><text x="749.86" y="312.80" font-size="9.40" font-weight="bold" fill="#3c4d8c" textLength="60.12" lengthAdjust="spacingAndGlyphs" >Mark the Roll</text><text x="747.39" y="325.90" font-size="9.40" font-weight="bold" fill="#3c4d8c" textLength="65.15" lengthAdjust="spacingAndGlyphs" >What's On For</text><text x="767.30" y="338.00" font-size="9.40" font-weight="bold" fill="#3c4d8c" textLength="25.14" lengthAdjust="spacingAndGlyphs" >Today</text><text x="857.46" y="313.00" font-size="9.40" font-weight="bold" fill="#3c4d8c" textLength="60.12" lengthAdjust="spacingAndGlyphs" >Mark the Roll</text><text x="854.99" y="326.10" font-size="9.40" font-weight="bold" fill="#3c4d8c" textLength="65.15" lengthAdjust="spacingAndGlyphs" >What's On For</text><text x="874.90" y="338.20" font-size="9.40" font-weight="bold" fill="#3c4d8c" textLength="25.14" lengthAdjust="spacingAndGlyphs" >Today</text><text x="964.16" y="313.60" font-size="9.40" font-weight="bold" fill="#3c4d8c" textLength="60.12" lengthAdjust="spacingAndGlyphs" >Mark the Roll</text><text x="961.69" y="326.70" font-size="9.40" font-weight="bold" fill="#3c4d8c" textLength="65.15" lengthAdjust="spacingAndGlyphs" >What's On For</text><text x="981.60" y="338.80" font-size="9.40" font-weight="bold" fill="#3c4d8c" textLength="25.14" lengthAdjust="spacingAndGlyphs" >Today</text><text x="1075.16" y="314.80" font-size="9.40" font-weight="bold" fill="#3c4d8c" textLength="60.12" lengthAdjust="spacingAndGlyphs" >Mark the Roll</text><text x="1072.69" y="327.90" font-size="9.40" font-weight="bold" fill="#3c4d8c" textLength="65.15" lengthAdjust="spacingAndGlyphs" >What's On For</text><text x="1092.60" y="340.00" font-size="9.40" font-weight="bold" fill="#3c4d8c" textLength="25.14" lengthAdjust="spacingAndGlyphs" >Today</text><text x="587.31" y="325.50" font-size="7.40" fill="#2b3a7a" textLength="29.36" lengthAdjust="spacingAndGlyphs" >8:55-9:15</text><text x="597.28" y="365.00" font-size="7.40" fill="#2b3a7a" textLength="8.90" lengthAdjust="spacingAndGlyphs" >1A</text><text x="585.40" y="390.50" font-size="7.40" fill="#2b3a7a" textLength="33.15" lengthAdjust="spacingAndGlyphs" >9:10-10:00</text><text x="597.26" y="414.50" font-size="7.40" fill="#2b3a7a" textLength="9.31" lengthAdjust="spacingAndGlyphs" >1B</text><text x="583.30" y="438.00" font-size="7.40" fill="#2b3a7a" textLength="37.14" lengthAdjust="spacingAndGlyphs" >10:00-10:50</text><text x="590.07" y="454.60" font-size="7.40" fill="#2b3a7a" textLength="23.54" lengthAdjust="spacingAndGlyphs" >Recess</text><text x="583.30" y="463.60" font-size="7.40" fill="#2b3a7a" textLength="37.14" lengthAdjust="spacingAndGlyphs" >10:50-11:20</text><text x="597.48" y="481.60" font-size="7.40" fill="#2b3a7a" textLength="8.70" lengthAdjust="spacingAndGlyphs" >2A</text><text x="583.30" y="504.50" font-size="7.40" fill="#2b3a7a" textLength="37.14" lengthAdjust="spacingAndGlyphs" >11:20-12:10</text><text x="597.46" y="528.20" font-size="7.40" fill="#2b3a7a" textLength="9.09" lengthAdjust="spacingAndGlyphs" >2B</text><text x="585.19" y="551.00" font-size="7.40" fill="#2b3a7a" textLength="33.36" lengthAdjust="spacingAndGlyphs" >12:10-1:00</text><text x="592.14" y="567.00" font-size="7.40" fill="#2b3a7a" textLength="19.61" lengthAdjust="spacingAndGlyphs" >Lunch</text><text x="587.08" y="576.30" font-size="7.40" fill="#2b3a7a" textLength="29.60" lengthAdjust="spacingAndGlyphs" >1:00-1:45</text><text x="597.57" y="594.60" font-size="7.40" fill="#2b3a7a" textLength="8.61" lengthAdjust="spacingAndGlyphs" >3A</text><text x="587.08" y="617.40" font-size="7.40" fill="#2b3a7a" textLength="29.60" lengthAdjust="spacingAndGlyphs" >1:45-2:35</text><text x="597.56" y="641.60" font-size="7.40" fill="#2b3a7a" textLength="9.00" lengthAdjust="spacingAndGlyphs" >3B</text><text x="587.27" y="670.30" font-size="7.40" fill="#2b3a7a" textLength="29.41" lengthAdjust="spacingAndGlyphs" >2:35-3:25</text><text x="631.58" y="366.70" font-size="17.00" fill="#1f2a6e" textLength="60.45" lengthAdjust="spacingAndGlyphs" >Literacy</text><text x="740.08" y="366.70" font-size="17.00" fill="#1f2a6e" textLength="60.45" lengthAdjust="spacingAndGlyphs" >Literacy</text><text x="848.28" y="366.70" font-size="17.00" fill="#1f2a6e" textLength="60.45" lengthAdjust="spacingAndGlyphs" >Literacy</text><text x="955.78" y="366.70" font-size="17.00" fill="#1f2a6e" textLength="60.45" lengthAdjust="spacingAndGlyphs" >Literacy</text><text x="1064.18" y="367.90" font-size="17.00" fill="#1f2a6e" textLength="60.45" lengthAdjust="spacingAndGlyphs" >Literacy</text><text x="631.58" y="416.90" font-size="17.00" fill="#1f2a6e" textLength="60.45" lengthAdjust="spacingAndGlyphs" >Literacy</text><text x="740.08" y="416.90" font-size="17.00" fill="#1f2a6e" textLength="60.45" lengthAdjust="spacingAndGlyphs" >Literacy</text><text x="848.28" y="416.90" font-size="17.00" fill="#1f2a6e" textLength="60.45" lengthAdjust="spacingAndGlyphs" >Literacy</text><text x="955.78" y="416.90" font-size="17.00" fill="#1f2a6e" textLength="60.45" lengthAdjust="spacingAndGlyphs" >Literacy</text><text x="1064.18" y="418.10" font-size="17.00" fill="#1f2a6e" textLength="60.45" lengthAdjust="spacingAndGlyphs" >Literacy</text><text x="632.49" y="483.80" font-size="17.00" font-style="italic" fill="#1f2a6e" textLength="45.46" lengthAdjust="spacingAndGlyphs" >Maths</text><text x="740.16" y="483.80" font-size="17.00" fill="#1f2a6e" textLength="42.57" lengthAdjust="spacingAndGlyphs" >Music</text><text x="849.19" y="483.80" font-size="17.00" font-style="italic" fill="#1f2a6e" textLength="45.46" lengthAdjust="spacingAndGlyphs" >Maths</text><text x="955.53" y="483.80" font-size="17.00" fill="#1f2a6e" textLength="54.20" lengthAdjust="spacingAndGlyphs" >Inquiry</text><text x="1065.09" y="483.80" font-size="17.00" font-style="italic" fill="#1f2a6e" textLength="45.46" lengthAdjust="spacingAndGlyphs" >Maths</text><text x="632.49" y="530.20" font-size="17.00" font-style="italic" fill="#1f2a6e" textLength="45.46" lengthAdjust="spacingAndGlyphs" >Maths</text><text x="740.13" y="530.20" font-size="17.00" fill="#1f2a6e" textLength="52.91" lengthAdjust="spacingAndGlyphs" >Huddle</text><text x="849.19" y="530.20" font-size="17.00" font-style="italic" fill="#1f2a6e" textLength="45.46" lengthAdjust="spacingAndGlyphs" >Maths</text><text x="955.53" y="530.20" font-size="17.00" fill="#1f2a6e" textLength="54.20" lengthAdjust="spacingAndGlyphs" >Inquiry</text><text x="1065.09" y="530.20" font-size="17.00" font-style="italic" fill="#1f2a6e" textLength="45.46" lengthAdjust="spacingAndGlyphs" >Maths</text><text x="631.82" y="596.60" font-size="17.00" fill="#1f2a6e" textLength="27.08" lengthAdjust="spacingAndGlyphs" >P.E.</text><text x="740.99" y="596.60" font-size="17.00" font-style="italic" fill="#1f2a6e" textLength="45.46" lengthAdjust="spacingAndGlyphs" >Maths</text><text x="848.03" y="596.60" font-size="17.00" fill="#1f2a6e" textLength="54.20" lengthAdjust="spacingAndGlyphs" >Inquiry</text><text x="958.08" y="596.60" font-size="17.00" font-style="italic" fill="#1f2a6e" textLength="22.71" lengthAdjust="spacingAndGlyphs" >Art</text><text x="1065.09" y="596.60" font-size="17.00" font-style="italic" fill="#1f2a6e" textLength="45.46" lengthAdjust="spacingAndGlyphs" >Maths</text><text x="631.57" y="643.00" font-size="17.00" fill="#1f2a6e" textLength="53.47" lengthAdjust="spacingAndGlyphs" >Library</text><text x="742.25" y="643.00" font-size="17.00" font-style="italic" fill="#1f2a6e" textLength="46.74" lengthAdjust="spacingAndGlyphs" >Auslan</text><text x="848.52" y="643.00" font-size="17.00" fill="#1f2a6e" textLength="27.08" lengthAdjust="spacingAndGlyphs" >P.E.</text><text x="958.08" y="643.00" font-size="17.00" font-style="italic" fill="#1f2a6e" textLength="22.71" lengthAdjust="spacingAndGlyphs" >Art</text><text x="1065.09" y="643.00" font-size="17.00" font-style="italic" fill="#1f2a6e" textLength="45.46" lengthAdjust="spacingAndGlyphs" >Maths</text><text x="1064.86" y="619.60" font-size="17.00" font-style="italic" fill="#1f2a6e" textLength="48.04" lengthAdjust="spacingAndGlyphs" >Games</text><text x="1064.80" y="668.60" font-size="17.00" font-style="italic" fill="#1f2a6e" textLength="52.13" lengthAdjust="spacingAndGlyphs" >Games</text></g></g>
<path d="M-6.0,860.5 C-3.7,861.2 3.6,862.9 8.0,864.5 C12.4,866.1 16.0,867.6 20.2,870.2 C24.4,872.8 29.4,876.6 33.0,880.0 C36.6,883.4 39.2,886.7 42.0,890.4 C44.8,894.1 47.5,898.1 49.5,902.0 C51.5,905.9 52.7,909.9 53.7,913.9 C54.7,917.9 55.4,921.8 55.4,926.0 C55.4,930.2 54.8,934.9 53.7,939.0 C52.6,943.1 51.5,946.9 48.7,950.8 C45.9,954.7 41.5,959.5 37.0,962.6 C32.5,965.7 26.6,968.0 21.8,969.3 C17.0,970.6 13.0,970.3 8.4,970.3 C3.8,970.2 -3.6,969.2 -6.0,969.0" stroke="#00bdc8" stroke-width="10" fill="none" stroke-linecap="butt" stroke-linejoin="round"/><path d="M-6.0,937.4 C-3.3,937.3 4.8,936.6 10.0,936.6 C15.2,936.6 20.2,936.9 25.2,937.4 C30.2,937.9 35.2,938.5 40.0,939.6 C44.8,940.7 49.5,941.6 54.0,944.0 C58.5,946.4 63.4,950.9 67.2,954.2 C71.0,957.5 74.2,960.6 77.0,964.0 C79.8,967.4 81.8,970.8 84.0,974.3 C86.2,977.8 88.4,981.4 90.0,985.0 C91.6,988.6 92.7,992.5 93.4,996.0 C94.1,999.5 94.3,1002.5 94.0,1006.2 C93.7,1009.9 92.6,1014.4 91.5,1018.0 C90.4,1021.6 89.1,1024.4 87.3,1028.0 C85.5,1031.6 82.8,1036.5 80.6,1039.8 C78.4,1043.0 76.2,1045.2 74.0,1047.5 C71.8,1049.8 69.9,1051.5 67.2,1053.3 C64.5,1055.1 60.8,1057.2 58.0,1058.6 C55.2,1060.0 54.5,1060.3 50.4,1061.7 C46.3,1063.1 39.2,1065.6 33.6,1066.7 C28.0,1067.8 23.4,1069.1 16.8,1068.4 C10.2,1067.7 -2.2,1063.5 -6.0,1062.5" stroke="#00bdc8" stroke-width="10" fill="none" stroke-linecap="butt" stroke-linejoin="round"/><path d="M-6.0,1054.0 C-4.0,1053.1 2.8,1049.9 6.0,1048.5 C9.2,1047.1 9.4,1046.6 13.4,1045.7 C17.4,1044.8 24.0,1043.1 30.2,1043.2 C36.4,1043.3 44.8,1044.8 50.4,1046.5 C56.0,1048.2 59.6,1051.0 63.8,1053.3 C68.0,1055.5 72.0,1056.9 75.6,1060.0 C79.2,1063.1 82.7,1067.8 85.6,1071.7 C88.5,1075.6 91.9,1081.5 93.2,1083.5" stroke="#00bdc8" stroke-width="9.6" fill="none" stroke-linecap="butt" stroke-linejoin="round"/><path d="M1196.0,651.5 C1194.5,651.7 1189.3,651.8 1187.0,652.5 C1184.7,653.2 1183.2,653.9 1182.0,655.5 C1180.8,657.1 1179.8,659.4 1179.5,662.0 C1179.2,664.6 1179.8,668.2 1180.4,671.0 C1181.1,673.8 1182.1,676.3 1183.4,679.0 C1184.7,681.7 1185.9,684.2 1188.0,687.0 C1190.1,689.8 1194.7,694.5 1196.0,696.0" stroke="#ffa800" stroke-width="10.5" fill="none" stroke-linejoin="round"/><path d="M1196.0,793.3 C1193.7,793.6 1186.0,794.8 1182.0,795.0 C1178.0,795.2 1175.6,795.3 1171.7,794.6 C1167.8,793.9 1163.4,792.4 1158.6,790.7 C1153.8,789.0 1147.7,787.0 1142.9,784.2 C1138.1,781.4 1133.8,777.6 1129.9,773.7 C1126.0,769.8 1122.1,765.1 1119.4,760.7 C1116.7,756.4 1114.4,751.4 1113.5,747.6 C1112.6,743.8 1112.6,740.3 1113.8,738.0 C1115.0,735.7 1117.6,733.7 1120.7,734.0 C1123.8,734.3 1128.4,736.2 1132.5,739.8 C1136.6,743.4 1142.0,750.2 1145.5,755.4 C1149.0,760.6 1151.4,765.9 1153.4,771.1 C1155.4,776.3 1156.5,782.0 1157.3,786.8 C1158.0,791.6 1158.3,795.1 1157.9,799.9 C1157.5,804.7 1156.3,810.3 1154.7,815.5 C1153.1,820.7 1149.2,828.6 1148.1,831.2" stroke="#ffa800" stroke-width="10.2" fill="none" stroke-linejoin="round"/>
<path d="M61.5,463.4 H522.5 A37.1,37.1 0 0 1 559.6,500.5 V731.0 A37.1,37.1 0 0 1 522.5,768.1 H165.3 L96.30000000000001,834.8 V768.1 H61.5 A37.1,37.1 0 0 1 24.4,731.0 V500.5 A37.1,37.1 0 0 1 61.5,463.4 Z" fill="#ffab00" stroke="#f03e1f" stroke-width="5.8" stroke-linejoin="miter" stroke-miterlimit="10"/>

<text x="121.55" y="547.10" font-size="50.60" font-weight="bold" fill="#fff" textLength="379.50" lengthAdjust="spacingAndGlyphs" >Welcome Back</text><text x="41.08" y="581.20" font-size="22.60" fill="#fff" textLength="488.62" lengthAdjust="spacingAndGlyphs" xml:space="preserve">Welcome Back to 2026. It was fantastic to</text><text x="39.96" y="613.40" font-size="22.60" fill="#fff" textLength="490.53" lengthAdjust="spacingAndGlyphs" xml:space="preserve">see the students last week and to be able</text><text x="34.19" y="646.30" font-size="22.60" fill="#fff" textLength="502.60" lengthAdjust="spacingAndGlyphs" xml:space="preserve">to complete their testing so we will be able</text><text x="37.90" y="679.20" font-size="22.60" fill="#fff" textLength="493.76" lengthAdjust="spacingAndGlyphs" xml:space="preserve">to jump headlong into  our learning. I  look</text><text x="34.92" y="712.30" font-size="22.60" fill="#fff" textLength="498.53" lengthAdjust="spacingAndGlyphs" xml:space="preserve">forward to the priveledge to teaching your</text><text x="180.26" y="745.20" font-size="22.60" fill="#fff" textLength="210.19" lengthAdjust="spacingAndGlyphs" xml:space="preserve">children this year.</text>
<defs><linearGradient id="hatg" gradientUnits="userSpaceOnUse" x1="230" y1="890" x2="300" y2="990"><stop offset="0" stop-color="#242d5b"/><stop offset="0.6" stop-color="#1e2549"/><stop offset="1" stop-color="#1b2144"/></linearGradient><linearGradient id="brimg" gradientUnits="userSpaceOnUse" x1="260" y1="950" x2="320" y2="1040"><stop offset="0" stop-color="#1c2243"/><stop offset="1" stop-color="#171b38"/></linearGradient></defs><g transform="translate(97.6,904.6) rotate(-33.5)"><rect x="0" y="0" width="253" height="272" fill="#ffffff"/></g><path d="M219.9,1003.8 L214.6,1027.9 L206.2,1064.7 C240,1048 300,1018 327,998.5 C355,978 385,955 409.8,926.1 L400.4,921.9 C385,919.5 360,917.5 343.7,914 L300,940 Z" fill="url(#brimg)"/><path d="M297.5,872.6 C292,872 288,873.5 285,875.1 C262,888 240,903 222,916.7 C210,928 200,940 197.8,946.1 C197,951 198.5,955 199.9,958.7 L211.5,977.5 L219.9,1003.8 L343.7,915 L326.9,899.9 L314.3,887.3 L303.8,875.7 Z" fill="url(#hatg)"/><path d="M219.9,1002.6 L343.7,914.6" stroke="#0e1226" stroke-width="1" fill="none"/><path d="M203,962 L300,897 L311,891" stroke="#141935" stroke-width="0.8" fill="none" opacity="0.7"/><ellipse cx="274.5" cy="948.4" rx="6.4" ry="9" fill="#12151f" stroke="#30364e" stroke-width="1.6" transform="rotate(-62 274.5 948.4)"/><ellipse cx="228.8" cy="1104.6" rx="3.6" ry="2.6" fill="#e8151d" transform="rotate(-30 228.8 1104.6)"/><ellipse cx="251.8" cy="1139" rx="3.6" ry="2.8" fill="#e8151d" transform="rotate(-30 251.8 1139)"/><text transform="translate(274.2,1111.4) rotate(-39)" font-size="25.2" fill="#111" textLength="242.5" lengthAdjust="spacingAndGlyphs">Rembember your hat</text><text transform="translate(324.0,1115.6) rotate(-39)" font-size="25.2" fill="#111" textLength="177.6" lengthAdjust="spacingAndGlyphs">No Hat No Play</text>
<g transform="translate(95,446.5) rotate(26)"><rect x="-5" y="38" width="10" height="36" rx="4" fill="#fbb51c"/><rect x="-9.6" y="70" width="19.2" height="50" rx="7" fill="#ff6d00"/><path d="M-9,76 Q0,81 9,76" stroke="#8a2a10" stroke-width="0.9" fill="none"/><path d="M-5.5,71.5 V78 M-2,72.4 V79.4 M1.6,72.4 V79.4 M5.2,71.5 V78" stroke="#8a2a10" stroke-width="0.9" fill="none"/><ellipse cx="0" cy="115" rx="7.8" ry="4" fill="none" stroke="#8a2a10" stroke-width="0.8"/></g><ellipse cx="91.0" cy="448.3" rx="41" ry="40.5" fill="#f03e1f"/><ellipse cx="93.7" cy="445.0" rx="40.6" ry="40" fill="#ff6d00"/><ellipse cx="91.9" cy="447.3" rx="36.4" ry="34.6" fill="#f03e1f" stroke="#7a2a14" stroke-width="0.8" transform="rotate(-25 92.5 446.5)"/><ellipse cx="94.1" cy="445.3" rx="32.6" ry="30.4" fill="#fbb51c" stroke="#7a2a14" stroke-width="0.8" transform="rotate(-25 92.5 446.5)"/><path d="M75,447.4 L110.6,426.4 M84,454.6 L109.6,439.4" stroke="#9a3a14" stroke-width="0.9" fill="none"/>
<rect x="541.1" y="818.6" width="527.9" height="310.9" rx="24.0" fill="#ef3b1f" stroke="#ffab00" stroke-width="6"/><text x="593.91" y="908.50" font-size="51.00" font-weight="bold" fill="#fff" textLength="448.57" lengthAdjust="spacingAndGlyphs" >Upcoming Events</text><text x="573.35" y="971.40" font-size="22.40" fill="#fff" textLength="104.70" lengthAdjust="spacingAndGlyphs" >February</text><text y="1005" font-size="22.4" fill="#fff" xml:space="preserve"><tspan x="574.92" textLength="135.09" lengthAdjust="spacingAndGlyphs">Tuesday 10</tspan><tspan x="710.01" dy="-10.2" font-size="13.2" textLength="12.71" lengthAdjust="spacingAndGlyphs">th</tspan><tspan x="722.72" dy="10.2" textLength="294.53" lengthAdjust="spacingAndGlyphs">- Whole School Assembly</tspan></text><text y="1038.2" font-size="22.4" fill="#fff" xml:space="preserve"><tspan x="573.34" textLength="109.97" lengthAdjust="spacingAndGlyphs">Friday 13</tspan><tspan x="683.31" dy="-10.2" font-size="13.2" textLength="12.97" lengthAdjust="spacingAndGlyphs">th</tspan><tspan x="696.28" dy="10.2" textLength="241.89" lengthAdjust="spacingAndGlyphs">- Swimming Carnival</tspan></text><text y="1070.9" font-size="22.4" fill="#fff" xml:space="preserve"><tspan x="573.37" textLength="108.25" lengthAdjust="spacingAndGlyphs">Friday 27</tspan><tspan x="681.62" dy="-10.2" font-size="13.2" textLength="12.76" lengthAdjust="spacingAndGlyphs">th</tspan><tspan x="694.39" dy="10.2" textLength="190.55" lengthAdjust="spacingAndGlyphs"> - School Photos</tspan></text>
<rect x="154.3" y="1174.3" width="532.5999999999999" height="299.0" rx="23.0" fill="#00bec8" stroke="#004b50" stroke-width="6"/><text x="163.37" y="1216.40" font-size="27.30" font-weight="bold" fill="#fff" textLength="497.10" lengthAdjust="spacingAndGlyphs" >SWPBS Focus Expected Behaviours</text><text x="347.27" y="1255.70" font-size="27.30" font-weight="bold" fill="#fff" textLength="129.79" lengthAdjust="spacingAndGlyphs" >Week 1-4</text><text x="213.56" y="1305.70" font-size="19.50" fill="#fff" textLength="424.09" lengthAdjust="spacingAndGlyphs" >1. I will view situations positively - Resilience</text><text x="212.50" y="1332.80" font-size="19.50" fill="#fff" textLength="452.74" lengthAdjust="spacingAndGlyphs" >2. I will wear my school uniform- Responsibility</text><text x="213.96" y="1360.00" font-size="19.50" fill="#fff" textLength="466.00" lengthAdjust="spacingAndGlyphs" >3. I will build and maintain friendships - Respect</text><text x="230.00" y="1387.00" font-size="19.50" fill="#fff" textLength="382.56" lengthAdjust="spacingAndGlyphs" >4. I will be a problem solver - Resilience</text><text x="226.13" y="1414.00" font-size="19.50" fill="#fff" textLength="420.71" lengthAdjust="spacingAndGlyphs" >5. I will be an active learner – Responsibility</text><text x="230.59" y="1441.00" font-size="19.50" fill="#fff" textLength="380.36" lengthAdjust="spacingAndGlyphs" >6.I will be an upstander - Responsibility</text>
<g transform="translate(818.2,1257.5) rotate(6.5)" stroke="#f2b230" stroke-width="9" fill="none" stroke-linecap="round"><path d="M-35.2,38 V0 A35.2,35.2 0 0 1 35.2,0 V70"/><path d="M-19.6,62 V0 A19.6,19.6 0 0 1 19.6,0 V62"/></g><g transform="translate(1014.8,1184.4) rotate(45)" stroke="#f2b230" stroke-width="9" fill="none" stroke-linecap="round"><path d="M-35.2,42 V0 A35.2,35.2 0 0 1 35.2,0 V80"/><path d="M-19.6,70 V0 A19.6,19.6 0 0 1 19.6,0 V70"/></g><g fill="#ef3b1f"><circle cx="788.6" cy="1329.7" r="26"/><circle cx="833.3" cy="1334.4" r="26"/><circle cx="842.6" cy="1378.3" r="26"/><circle cx="803.7" cy="1400.8" r="26"/><circle cx="770.3" cy="1370.7" r="26"/><circle cx="807.7" cy="1362.8" r="30.6"/></g><circle cx="807.7" cy="1362.8" r="26.3" fill="#fffef7"/><g fill="#00bdc8"><circle cx="945.4" cy="1224.8" r="26"/><circle cx="979.1" cy="1253.1" r="26"/><circle cx="962.6" cy="1293.8" r="26"/><circle cx="918.8" cy="1290.8" r="26"/><circle cx="908.1" cy="1248.1" r="26"/><circle cx="942.8" cy="1262.1" r="29.9"/></g><circle cx="942.8" cy="1262.1" r="26.3" fill="#fffef7"/>
<defs>
<linearGradient id="wood" x1="0" x2="1" y1="0" y2="0"><stop offset="0" stop-color="#f9c96c"/><stop offset="0.42" stop-color="#fff0a0"/><stop offset="0.75" stop-color="#f8cf80"/><stop offset="1" stop-color="#f3b860"/></linearGradient>
<linearGradient id="ybody" x1="0" x2="1" y1="0" y2="0"><stop offset="0" stop-color="#f9a81d"/><stop offset="0.5" stop-color="#ffcb25"/><stop offset="1" stop-color="#fbb822"/></linearGradient>
<linearGradient id="pink" x1="0" x2="1" y1="0" y2="0.3"><stop offset="0" stop-color="#fbd0c2"/><stop offset="1" stop-color="#df7b78"/></linearGradient>
<linearGradient id="silver" x1="0" x2="1" y1="0" y2="0"><stop offset="0" stop-color="#e9e9e9"/><stop offset="0.45" stop-color="#bdbdbd"/><stop offset="0.8" stop-color="#f4f4f4"/><stop offset="1" stop-color="#c4c4c4"/></linearGradient>
<filter id="thin" x="-20%" y="-20%" width="140%" height="140%"><feMorphology operator="erode" radius="1 1"/><feComponentTransfer><feFuncA type="linear" slope="0.92"/></feComponentTransfer></filter>
</defs><g transform="translate(228.2,1541.0) rotate(-13)"><path d="M0,0 L23.0,60.0 L-23.0,60.0 Z" fill="url(#wood)" stroke="#1a1412" stroke-width="3.6" stroke-linejoin="round"/><path d="M0,0 L7.2,17.0 L4.0,20.5 L2.2,16.0 L0,20.5 L-2.2,16.0 L-4.0,20.5 L-7.2,17.0 Z" fill="#ffe93a" stroke="#1a1412" stroke-width="2.7" stroke-linejoin="round"/><path d="M-23.0,260 L-23.0,59.7 A7.7,8.1 0 0 1 -7.7,59.7 L-7.7,260 Z" fill="#fff200" stroke="#1a1412" stroke-width="3.6" stroke-linejoin="round"/><path d="M-7.7,260 L-7.7,57.7 A7.7,8.1 0 0 1 7.7,57.7 L7.7,260 Z" fill="#fff200" stroke="#1a1412" stroke-width="3.6" stroke-linejoin="round"/><path d="M7.7,260 L7.7,59.7 A7.7,8.1 0 0 1 23.0,59.7 L23.0,260 Z" fill="#fff200" stroke="#1a1412" stroke-width="3.6" stroke-linejoin="round"/></g><g transform="translate(965.6,1541.6) rotate(6)"><path d="M0,0 L25.0,64.0 L-25.0,64.0 Z" fill="url(#wood)" stroke="#1a1412" stroke-width="3.6" stroke-linejoin="round"/><path d="M0,0 L6.9,16.0 L3.8,19.5 L2.1,15.0 L0,19.5 L-2.1,15.0 L-3.8,19.5 L-6.9,16.0 Z" fill="#3f8fe0" stroke="#1a1412" stroke-width="2.7" stroke-linejoin="round"/><path d="M-25.0,260 L-25.0,64.3 A8.3,8.8 0 0 1 -8.3,64.3 L-8.3,260 Z" fill="#4aa8e0" stroke="#1a1412" stroke-width="3.6" stroke-linejoin="round"/><path d="M-8.3,260 L-8.3,62.3 A8.3,8.8 0 0 1 8.3,62.3 L8.3,260 Z" fill="#4aa8e0" stroke="#1a1412" stroke-width="3.6" stroke-linejoin="round"/><path d="M8.3,260 L8.3,64.3 A8.3,8.8 0 0 1 25.0,64.3 L25.0,260 Z" fill="#4aa8e0" stroke="#1a1412" stroke-width="3.6" stroke-linejoin="round"/></g><g transform="translate(1019.5,1551.5) rotate(10)"><path d="M0,0 L20.0,54.0 L-20.0,54.0 Z" fill="url(#wood)" stroke="#1a1412" stroke-width="3.6" stroke-linejoin="round"/><path d="M0,0 L5.8,14.0 L3.2,17.5 L1.7,13.0 L0,17.5 L-1.7,13.0 L-3.2,17.5 L-5.8,14.0 Z" fill="#222" stroke="#1a1412" stroke-width="2.7" stroke-linejoin="round"/><path d="M-20.0,260 L-20.0,52.7 A6.7,7.0 0 0 1 -6.7,52.7 L-6.7,260 Z" fill="#333" stroke="#1a1412" stroke-width="3.6" stroke-linejoin="round"/><path d="M-6.7,260 L-6.7,50.7 A6.7,7.0 0 0 1 6.7,50.7 L6.7,260 Z" fill="#333" stroke="#1a1412" stroke-width="3.6" stroke-linejoin="round"/><path d="M6.7,260 L6.7,52.7 A6.7,7.0 0 0 1 20.0,52.7 L20.0,260 Z" fill="#333" stroke="#1a1412" stroke-width="3.6" stroke-linejoin="round"/></g><g transform="translate(565.6,1539.5) rotate(-3.5)"><path d="M0,0 L33.0,78.0 L-33.0,78.0 Z" fill="url(#wood)" stroke="#1a1412" stroke-width="4.2" stroke-linejoin="round"/><path d="M0,0 L8.7,19.0 L4.8,22.5 L2.6,18.0 L0,22.5 L-2.6,18.0 L-4.8,22.5 L-8.7,19.0 Z" fill="#b5a800" stroke="#1a1412" stroke-width="3.2" stroke-linejoin="round"/><path d="M-33.0,260 L-33.0,81.0 A11.0,11.6 0 0 1 -11.0,81.0 L-11.0,260 Z" fill="#fff200" stroke="#1a1412" stroke-width="4.2" stroke-linejoin="round"/><path d="M-11.0,260 L-11.0,79.0 A11.0,11.6 0 0 1 11.0,79.0 L11.0,260 Z" fill="#fff200" stroke="#1a1412" stroke-width="4.2" stroke-linejoin="round"/><path d="M11.0,260 L11.0,81.0 A11.0,11.6 0 0 1 33.0,81.0 L33.0,260 Z" fill="#fff200" stroke="#1a1412" stroke-width="4.2" stroke-linejoin="round"/></g><g transform="translate(355.4,1517.7) rotate(8)"><path d="M0,0 L33.0,80.0 L-33.0,80.0 Z" fill="url(#wood)" stroke="#1a1412" stroke-width="4.2" stroke-linejoin="round"/><path d="M0,0 L8.5,19.0 L4.7,22.5 L2.5,18.0 L0,22.5 L-2.5,18.0 L-4.7,22.5 L-8.5,19.0 Z" fill="#3f8fe0" stroke="#1a1412" stroke-width="3.2" stroke-linejoin="round"/><path d="M-33.0,260 L-33.0,83.0 A11.0,11.6 0 0 1 -11.0,83.0 L-11.0,260 Z" fill="#4aa8e0" stroke="#1a1412" stroke-width="4.2" stroke-linejoin="round"/><path d="M-11.0,260 L-11.0,81.0 A11.0,11.6 0 0 1 11.0,81.0 L11.0,260 Z" fill="#4aa8e0" stroke="#1a1412" stroke-width="4.2" stroke-linejoin="round"/><path d="M11.0,260 L11.0,83.0 A11.0,11.6 0 0 1 33.0,83.0 L33.0,260 Z" fill="#4aa8e0" stroke="#1a1412" stroke-width="4.2" stroke-linejoin="round"/></g><g transform="translate(413.4,1519.7) rotate(-0.8)"><path d="M0,0 L34.0,81.0 L-34.0,81.0 Z" fill="url(#wood)" stroke="#1a1412" stroke-width="4.2" stroke-linejoin="round"/><path d="M0,0 L8.6,19.0 L4.7,22.5 L2.6,18.0 L0,22.5 L-2.6,18.0 L-4.7,22.5 L-8.6,19.0 Z" fill="#f2531c" stroke="#1a1412" stroke-width="3.2" stroke-linejoin="round"/><path d="M-34.0,260 L-34.0,84.3 A11.3,11.9 0 0 1 -11.3,84.3 L-11.3,260 Z" fill="#ed1c24" stroke="#1a1412" stroke-width="4.2" stroke-linejoin="round"/><path d="M-11.3,260 L-11.3,82.3 A11.3,11.9 0 0 1 11.3,82.3 L11.3,260 Z" fill="#ed1c24" stroke="#1a1412" stroke-width="4.2" stroke-linejoin="round"/><path d="M11.3,260 L11.3,84.3 A11.3,11.9 0 0 1 34.0,84.3 L34.0,260 Z" fill="#ed1c24" stroke="#1a1412" stroke-width="4.2" stroke-linejoin="round"/></g><g transform="translate(534.1,1526) rotate(16.2)"><rect x="-36" y="88" width="72" height="260" fill="url(#ybody)" stroke="#1a1412" stroke-width="4.4"/><path d="M-12,92 V340 M12,92 V340" stroke="#1a1412" stroke-width="4.4" fill="none"/><path d="M-33,54 V11 Q-33,-3 -19,-3 H19 Q33,-3 33,11 V57 Z" fill="url(#pink)" stroke="#1a1412" stroke-width="4.4" stroke-linejoin="round"/><rect x="-41" y="49.0" width="82" height="13.6" rx="6.5" fill="url(#silver)" stroke="#1a1412" stroke-width="4.4"/><rect x="-41" y="62.4" width="82" height="13.6" rx="6.5" fill="url(#silver)" stroke="#1a1412" stroke-width="4.4"/><rect x="-41" y="75.8" width="82" height="13.6" rx="6.5" fill="url(#silver)" stroke="#1a1412" stroke-width="4.4"/></g><g transform="translate(662.0,1515.2) rotate(9)"><path d="M0,0 L35.0,81.0 L-35.0,81.0 Z" fill="url(#wood)" stroke="#1a1412" stroke-width="4.2" stroke-linejoin="round"/><path d="M0,0 L8.9,19.0 L4.9,22.5 L2.7,18.0 L0,22.5 L-2.7,18.0 L-4.9,22.5 L-8.9,19.0 Z" fill="#3f8fe0" stroke="#1a1412" stroke-width="3.2" stroke-linejoin="round"/><path d="M-35.0,260 L-35.0,84.7 A11.7,12.2 0 0 1 -11.7,84.7 L-11.7,260 Z" fill="#4aa8e0" stroke="#1a1412" stroke-width="4.2" stroke-linejoin="round"/><path d="M-11.7,260 L-11.7,82.7 A11.7,12.2 0 0 1 11.7,82.7 L11.7,260 Z" fill="#4aa8e0" stroke="#1a1412" stroke-width="4.2" stroke-linejoin="round"/><path d="M11.7,260 L11.7,84.7 A11.7,12.2 0 0 1 35.0,84.7 L35.0,260 Z" fill="#4aa8e0" stroke="#1a1412" stroke-width="4.2" stroke-linejoin="round"/></g><g transform="translate(719.2,1517.2) rotate(-0.8)"><path d="M0,0 L34.5,81.0 L-34.5,81.0 Z" fill="url(#wood)" stroke="#1a1412" stroke-width="4.2" stroke-linejoin="round"/><path d="M0,0 L8.7,19.0 L4.8,22.5 L2.6,18.0 L0,22.5 L-2.6,18.0 L-4.8,22.5 L-8.7,19.0 Z" fill="#f2531c" stroke="#1a1412" stroke-width="3.2" stroke-linejoin="round"/><path d="M-34.5,260 L-34.5,84.5 A11.5,12.1 0 0 1 -11.5,84.5 L-11.5,260 Z" fill="#ed1c24" stroke="#1a1412" stroke-width="4.2" stroke-linejoin="round"/><path d="M-11.5,260 L-11.5,82.5 A11.5,12.1 0 0 1 11.5,82.5 L11.5,260 Z" fill="#ed1c24" stroke="#1a1412" stroke-width="4.2" stroke-linejoin="round"/><path d="M11.5,260 L11.5,84.5 A11.5,12.1 0 0 1 34.5,84.5 L34.5,260 Z" fill="#ed1c24" stroke="#1a1412" stroke-width="4.2" stroke-linejoin="round"/></g><g transform="translate(819.0,1502.6) rotate(3.4)"><path d="M0,0 L38.5,85.0 L-38.5,85.0 Z" fill="url(#wood)" stroke="#1a1412" stroke-width="4.2" stroke-linejoin="round"/><path d="M0,0 L10.7,22.0 L5.9,25.5 L3.2,21.0 L0,25.5 L-3.2,21.0 L-5.9,25.5 L-10.7,22.0 Z" fill="#1c1a18" stroke="#1a1412" stroke-width="3.2" stroke-linejoin="round"/><path d="M-38.5,260 L-38.5,89.8 A12.8,13.5 0 0 1 -12.8,89.8 L-12.8,260 Z" fill="url(#ybody)" stroke="#1a1412" stroke-width="4.2" stroke-linejoin="round"/><path d="M-12.8,260 L-12.8,87.8 A12.8,13.5 0 0 1 12.8,87.8 L12.8,260 Z" fill="url(#ybody)" stroke="#1a1412" stroke-width="4.2" stroke-linejoin="round"/><path d="M12.8,260 L12.8,89.8 A12.8,13.5 0 0 1 38.5,89.8 L38.5,260 Z" fill="url(#ybody)" stroke="#1a1412" stroke-width="4.2" stroke-linejoin="round"/></g><g transform="translate(865.3,1556.8) rotate(-8)"><path d="M0,0 L29.0,86.0 L-29.0,86.0 Z" fill="url(#wood)" stroke="#1a1412" stroke-width="3.8" stroke-linejoin="round"/><path d="M0,0 L6.2,17.0 L3.4,20.5 L1.8,16.0 L0,20.5 L-1.8,16.0 L-3.4,20.5 L-6.2,17.0 Z" fill="#ffe93a" stroke="#1a1412" stroke-width="2.8" stroke-linejoin="round"/><path d="M-29.0,260 L-29.0,87.7 A9.7,10.2 0 0 1 -9.7,87.7 L-9.7,260 Z" fill="#fff200" stroke="#1a1412" stroke-width="3.8" stroke-linejoin="round"/><path d="M-9.7,260 L-9.7,85.7 A9.7,10.2 0 0 1 9.7,85.7 L9.7,260 Z" fill="#fff200" stroke="#1a1412" stroke-width="3.8" stroke-linejoin="round"/><path d="M9.7,260 L9.7,87.7 A9.7,10.2 0 0 1 29.0,87.7 L29.0,260 Z" fill="#fff200" stroke="#1a1412" stroke-width="3.8" stroke-linejoin="round"/></g><polygon points="866.6,1594.5 927.0,1569.3 1056.0,1571.0 1056.0,1600.0 1022.8,1600.0 866.6,1600.0" fill="#db962e" /><polygon points="1022.8,1594.5 1056.0,1579.4 1056.0,1690.0 1022.8,1690.0" fill="#fbb33c" /><polygon points="866.6,1594.5 1023.2,1594.5 1023.2,1690.0 866.6,1690.0" fill="#ffce20" /><polygon points="1054.1,1598.6 1056.0,1591.0 1063.0,1588.0 1191.0,1612.0 1191.0,1630.0 1151.0,1630.0 1054.1,1605.0" fill="#18a0c9" /><polygon points="1150.5,1621.3 1191.0,1618.8 1191.0,1690.0 1150.5,1690.0" fill="#29c0f0" /><polygon points="1054.1,1598.6 1151.0,1621.3 1151.0,1690.0 1054.1,1690.0" fill="#10a9e2" /><polygon points="1054.1,1455.1 1070.5,1449.3 1110.0,1462.0 1110.0,1475.0" fill="#ed1c24" /><polygon points="1054.1,1455.1 1110.0,1461.0 1159.0,1470.0 1191.0,1470.0 1191.0,1618.8 1055.9,1592.3" fill="#ef5766" /><polygon points="1050.4,1314.9 1161.1,1277.1 1191.0,1291.5 1191.0,1360.0 1158.6,1370.0 1050.4,1320.0" fill="#acd04f" /><polygon points="1158.2,1363.2 1191.0,1353.0 1191.0,1481.6 1158.7,1494.1" fill="#22a447" /><polygon points="1050.4,1314.9 1158.6,1363.2 1159.1,1494.1 1051.1,1439.3" fill="#4db85c" /><text transform="translate(1100.5,1430) skewY(22) rotate(0) scale(0.74,1.0)" font-size="93" text-anchor="middle" fill="#fff" filter="url(#thin)">A</text><text transform="translate(1130,1568) skewY(6) rotate(0) scale(0.84,1.0)" font-size="78" text-anchor="middle" fill="#fff" filter="url(#thin)">C</text><text transform="translate(1096,1713) skewY(8) rotate(0) scale(0.62,1.0)" font-size="94" text-anchor="middle" fill="#fff" filter="url(#thin)">D</text><text transform="translate(1199,1736) skewY(-6) rotate(0) scale(0.72,1.3)" font-size="94" text-anchor="middle" fill="#fff" filter="url(#thin)">E</text><text transform="translate(916,1737.5) skewY(0) rotate(0) scale(1.0,1.35)" font-size="98" text-anchor="start" fill="#fff" filter="url(#thin)">F</text><g transform="translate(1184.8,0) scale(-1,1)"><polygon points="866.6,1594.5 927.0,1569.3 1056.0,1571.0 1056.0,1600.0 1022.8,1600.0 866.6,1600.0" fill="#db962e" /><polygon points="1022.8,1594.5 1056.0,1579.4 1056.0,1690.0 1022.8,1690.0" fill="#fbb33c" /><polygon points="866.6,1594.5 1023.2,1594.5 1023.2,1690.0 866.6,1690.0" fill="#ffce20" /><polygon points="1054.1,1598.6 1056.0,1591.0 1063.0,1588.0 1191.0,1612.0 1191.0,1630.0 1151.0,1630.0 1054.1,1605.0" fill="#18a0c9" /><polygon points="1150.5,1621.3 1191.0,1618.8 1191.0,1690.0 1150.5,1690.0" fill="#29c0f0" /><polygon points="1054.1,1598.6 1151.0,1621.3 1151.0,1690.0 1054.1,1690.0" fill="#10a9e2" /><polygon points="1054.1,1455.1 1070.5,1449.3 1110.0,1462.0 1110.0,1475.0" fill="#ed1c24" /><polygon points="1054.1,1455.1 1110.0,1461.0 1159.0,1470.0 1191.0,1470.0 1191.0,1618.8 1055.9,1592.3" fill="#ef5766" /><polygon points="1050.4,1314.9 1161.1,1277.1 1191.0,1291.5 1191.0,1360.0 1158.6,1370.0 1050.4,1320.0" fill="#acd04f" /><polygon points="1158.2,1363.2 1191.0,1353.0 1191.0,1481.6 1158.7,1494.1" fill="#22a447" /><polygon points="1050.4,1314.9 1158.6,1363.2 1159.1,1494.1 1051.1,1439.3" fill="#4db85c" /><text transform="translate(1100.5,1430) skewY(22) rotate(0) scale(0.74,1.0)" font-size="93" text-anchor="middle" fill="#fff" filter="url(#thin)">A</text><text transform="translate(1130,1568) skewY(6) rotate(0) scale(0.84,1.0)" font-size="78" text-anchor="middle" fill="#fff" filter="url(#thin)">C</text><text transform="translate(1096,1713) skewY(8) rotate(0) scale(0.62,1.0)" font-size="94" text-anchor="middle" fill="#fff" filter="url(#thin)">D</text><text transform="translate(1199,1736) skewY(-6) rotate(0) scale(0.72,1.3)" font-size="94" text-anchor="middle" fill="#fff" filter="url(#thin)">E</text><text transform="translate(916,1737.5) skewY(0) rotate(0) scale(1.0,1.35)" font-size="98" text-anchor="start" fill="#fff" filter="url(#thin)">F</text></g></svg>
</body></html>
